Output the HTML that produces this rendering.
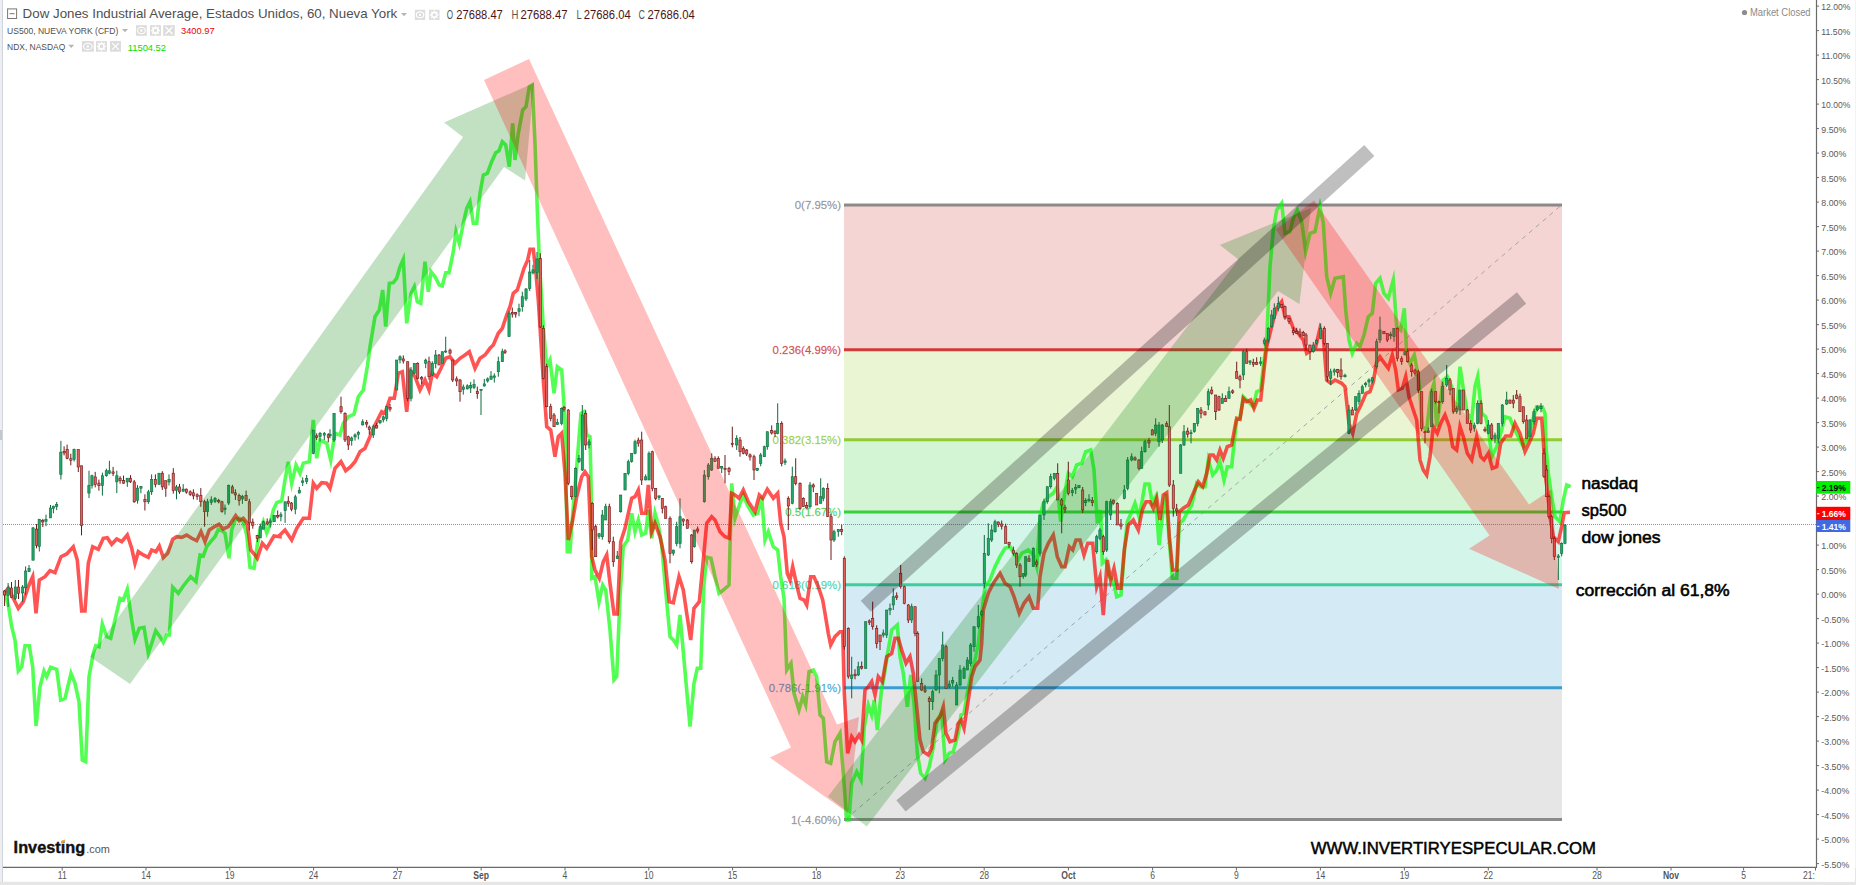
<!DOCTYPE html>
<html lang="es"><head><meta charset="utf-8"><title>Dow Jones Industrial Average - Investing.com</title>
<style>
html,body{margin:0;padding:0;background:#fff;overflow:hidden}
body{width:1856px;height:885px;font-family:"Liberation Sans",Arial,sans-serif}
svg{display:block}
text{font-family:"Liberation Sans",Arial,sans-serif}
.ax{font-size:10px;fill:#555}
.tb{font-weight:bold}
.fib{font-size:11.4px}
.note{font-size:16px;fill:#000;stroke:#000;stroke-width:.55px}
</style></head><body>
<svg width="1856" height="885" viewBox="0 0 1856 885">
<rect width="1856" height="885" fill="#fff"/>

<rect x="0" y="0" width="2" height="882" fill="#eceef2"/><rect x="2" y="0" width="1" height="882" fill="#cfd3db"/>
<rect x="0" y="430" width="2" height="10" fill="#c4c7cd"/>
<rect x="0" y="881.7" width="1856" height="3.3" fill="#e6e6e6"/>
<rect x="1855" y="0" width="1" height="885" fill="#e6e6e6"/>
<g id="fib">
<rect x="844" y="204.9" width="718" height="144.8" fill="rgba(204,40,40,0.2)"/>
<rect x="844" y="349.7" width="718" height="90.1" fill="rgba(149,204,40,0.2)"/>
<rect x="844" y="439.8" width="718" height="72.2" fill="rgba(40,204,40,0.2)"/>
<rect x="844" y="512.0" width="718" height="72.8" fill="rgba(40,204,149,0.2)"/>
<rect x="844" y="584.8" width="718" height="102.9" fill="rgba(40,149,204,0.2)"/>
<rect x="844" y="687.7" width="718" height="131.9" fill="rgba(128,128,128,0.2)"/>
<line x1="846" y1="819" x2="1561" y2="205.5" stroke="#a6a6a6" stroke-width="1" stroke-dasharray="4.5,4.5"/>
<line x1="844" y1="204.9" x2="1562" y2="204.9" stroke="#808080" stroke-width="3" stroke-opacity="0.9"/>
<line x1="844" y1="349.7" x2="1562" y2="349.7" stroke="#cc2828" stroke-width="3" stroke-opacity="0.9"/>
<line x1="844" y1="439.8" x2="1562" y2="439.8" stroke="#88c622" stroke-width="3" stroke-opacity="0.9"/>
<line x1="844" y1="512.0" x2="1562" y2="512.0" stroke="#28cc28" stroke-width="3" stroke-opacity="0.9"/>
<line x1="844" y1="584.8" x2="1562" y2="584.8" stroke="#28cc95" stroke-width="3" stroke-opacity="0.9"/>
<line x1="844" y1="687.7" x2="1562" y2="687.7" stroke="#2895cc" stroke-width="3" stroke-opacity="0.9"/>
<line x1="844" y1="819.6" x2="1562" y2="819.6" stroke="#808080" stroke-width="3" stroke-opacity="0.9"/>
<text class="fib" x="841" y="208.9" text-anchor="end" fill="#808080" fill-opacity="0.8" stroke="#808080" stroke-opacity="0.5" stroke-width="0.3">0(7.95%)</text>
<text class="fib" x="841" y="353.7" text-anchor="end" fill="#cc2828" fill-opacity="0.8" stroke="#cc2828" stroke-opacity="0.5" stroke-width="0.3">0.236(4.99%)</text>
<text class="fib" x="841" y="443.8" text-anchor="end" fill="#88c622" fill-opacity="0.8" stroke="#88c622" stroke-opacity="0.5" stroke-width="0.3">0.382(3.15%)</text>
<text class="fib" x="841" y="516.0" text-anchor="end" fill="#28cc28" fill-opacity="0.8" stroke="#28cc28" stroke-opacity="0.5" stroke-width="0.3">0.5(1.67%)</text>
<text class="fib" x="841" y="588.8" text-anchor="end" fill="#28cc95" fill-opacity="0.8" stroke="#28cc95" stroke-opacity="0.5" stroke-width="0.3">0.618(0.19%)</text>
<text class="fib" x="841" y="691.7" text-anchor="end" fill="#2895cc" fill-opacity="0.8" stroke="#2895cc" stroke-opacity="0.5" stroke-width="0.3">0.786(-1.91%)</text>
<text class="fib" x="841" y="823.6" text-anchor="end" fill="#808080" fill-opacity="0.8" stroke="#808080" stroke-opacity="0.5" stroke-width="0.3">1(-4.60%)</text>
</g>
<line x1="3" y1="524.5" x2="1816" y2="524.5" stroke="#4a6fe0" stroke-opacity="0.75" stroke-width="1" stroke-dasharray="1,1"/>
<polyline points="5.0,593.3 8.3,605.0 11.7,626.7 15.0,640.0 18.3,671.0 21.7,666.7 25.0,645.7 29.3,645.7 32.7,666.7 36.0,726.0 40.0,686.7 44.0,671.0 46.7,676.7 50.7,667.3 56.7,669.3 60.7,700.0 65.0,698.3 71.0,673.3 75.0,683.3 79.0,701.7 82.3,760.0 85.7,761.7 89.0,676.7 93.3,653.3 95.7,645.7 99.0,646.7 102.3,624.0 106.7,636.7 110.7,638.3 115.0,620.0 120.0,598.3 123.3,600.0 127.3,589.3 131.7,620.0 135.0,639.3 139.3,628.3 144.0,627.3 148.3,653.3 151.7,643.3 155.7,630.7 160.0,636.7 163.3,642.3 166.7,635.0 169.3,635.0 172.7,587.3 178.3,593.3 183.3,586.0 190.7,576.7 196.0,581.7 200.0,555.0 203.3,556.0 206.7,546.7 210.7,541.7 215.0,536.7 218.3,529.3 221.7,530.7 225.0,533.3 229.0,558.3 231.7,530.0 235.0,520.0 239.3,518.3 243.3,521.7 246.7,535.0 250.0,567.3 254.0,568.3 257.3,545.0 260.0,530.0 263.3,521.7 266.7,532.7 270.0,525.0 273.3,510.0 276.7,502.7 281.7,500.7 285.0,480.0 288.3,461.7 291.7,483.3 296.0,465.0 300.0,473.3 303.3,463.3 309.3,461.7 313.3,420.0 316.7,458.3 320.0,440.0 326.7,443.3 330.7,460.0 335.0,433.3 340.0,435.0 343.3,423.3 348.3,416.7 354.0,414.3 358.3,396.7 363.3,390.0 367.3,366.7 370.0,346.7 375.0,316.7 379.3,310.0 382.7,290.0 385.7,326.7 389.3,283.3 393.3,282.7 396.7,278.3 400.0,266.7 403.3,259.3 406.7,323.3 411.0,293.3 414.3,286.7 417.3,301.7 420.7,303.3 425.0,261.7 428.3,291.7 431.0,271.7 435.0,276.7 439.3,285.0 442.3,286.0 445.7,272.7 449.0,272.7 453.3,251.7 456.0,231.7 459.3,243.3 463.3,223.3 466.7,208.3 470.0,201.7 473.3,223.3 476.7,223.3 480.0,193.3 483.3,175.0 487.3,173.3 491.7,161.7 495.7,152.7 499.0,150.7 502.3,141.7 505.7,145.0 509.3,166.7 512.7,123.3 515.0,160.0 518.3,133.3 522.7,110.0 526.0,106.7 529.3,86.7 532.3,85.0 535.0,143.3 537.3,210.0 539.3,260.0 543.3,326.7 546.7,366.7 550.0,360.0 554.0,393.3 557.3,366.7 561.7,370.0 565.0,420.0 567.3,551.7 570.0,551.7 572.7,513.3 576.7,466.7 581.0,413.3 584.0,411.7 586.7,435.0 590.0,436.7 591.7,513.3 591.7,578.3 595.0,576.7 599.0,601.7 602.7,585.0 605.7,590.0 610.0,630.0 614.0,680.0 616.7,676.7 620.0,596.7 623.3,546.7 627.7,540.0 631.7,513.3 635.0,531.7 638.3,520.0 641.7,535.0 645.7,533.3 648.3,510.0 651.7,538.3 655.0,513.3 658.3,525.0 661.7,545.0 665.0,583.3 670.0,636.7 673.3,640.0 676.7,645.0 680.0,615.0 684.0,660.0 690.0,726.7 694.0,683.3 697.3,668.3 700.7,668.3 704.0,583.3 706.7,557.3 711.0,558.3 715.0,576.7 719.0,593.3 723.3,590.0 729.0,585.0 731.7,483.3 735.0,518.3 740.0,503.3 743.3,495.0 747.3,505.0 753.3,515.0 757.7,513.3 761.7,496.7 765.0,540.0 768.3,531.7 773.3,546.7 777.7,550.0 780.7,576.7 784.0,598.3 786.7,670.0 791.0,663.3 794.0,693.3 799.0,710.0 802.7,696.7 805.7,705.0 809.0,671.7 813.3,670.0 816.7,676.7 820.0,715.0 823.3,718.3 826.7,761.7 830.7,763.3 835.0,741.7 840.0,733.3 843.3,773.3 846.7,820.0 849.0,820.0 851.7,783.3 856.7,771.7 861.0,780.0 864.3,726.7 868.3,705.0 871.7,715.0 874.3,700.0 877.3,730.0 881.7,688.3 884.0,676.7 887.3,655.0 891.7,630.0 897.3,625.0 900.0,656.7 903.3,673.3 907.3,706.7 910.7,675.0 914.0,703.3 917.3,753.3 920.7,773.3 925.0,778.3 929.3,766.7 933.3,746.7 937.3,720.0 941.7,713.3 945.0,760.0 949.3,753.3 953.3,751.7 958.3,733.3 961.0,715.0 964.0,713.3 967.3,693.3 971.7,670.0 975.0,660.0 978.3,643.3 981.7,613.3 985.0,586.7 990.0,580.0 995.0,566.7 1000.0,556.7 1005.0,548.3 1010.0,546.7 1014.0,553.3 1018.3,560.0 1021.7,553.3 1028.3,550.0 1033.3,555.0 1036.7,566.7 1040.0,516.7 1043.3,503.3 1048.3,496.7 1053.3,493.3 1057.3,486.7 1060.7,521.7 1065.0,491.7 1068.3,473.3 1072.3,476.7 1076.7,465.0 1081.7,463.3 1085.7,451.7 1090.7,450.0 1094.0,470.0 1097.3,523.3 1100.7,510.0 1102.3,563.3 1106.0,560.0 1109.3,576.7 1113.3,580.0 1116.7,596.7 1121.0,595.0 1125.0,543.3 1127.3,521.7 1131.0,513.3 1135.0,503.3 1139.0,516.7 1142.3,500.0 1145.0,484.0 1149.0,484.0 1152.3,503.3 1155.7,496.7 1159.0,545.0 1162.3,516.7 1165.7,493.3 1169.0,536.7 1172.3,578.3 1176.7,578.3 1179.3,523.3 1183.3,520.0 1187.7,511.7 1191.7,505.0 1196.7,483.3 1200.7,486.7 1205.0,486.7 1208.3,460.0 1212.7,475.0 1216.7,470.0 1220.0,461.7 1224.0,480.0 1227.3,466.7 1231.7,466.7 1234.0,443.3 1236.7,420.0 1240.0,418.3 1243.3,396.7 1248.3,401.7 1253.3,406.7 1256.7,391.7 1260.7,390.0 1263.3,366.7 1266.7,340.0 1270.0,266.7 1273.3,230.0 1276.7,210.0 1281.7,203.3 1285.0,233.3 1290.0,231.7 1293.3,218.3 1297.3,210.0 1301.7,221.7 1305.7,251.7 1310.0,233.3 1315.0,231.7 1320.0,206.7 1323.3,223.3 1326.7,276.7 1330.7,293.3 1335.0,278.3 1343.3,276.7 1345.7,310.0 1349.0,340.0 1352.3,353.3 1356.7,343.3 1360.0,346.7 1364.0,335.0 1368.3,316.7 1372.3,313.3 1375.7,283.3 1380.0,278.3 1384.0,293.3 1388.3,298.3 1393.3,280.0 1396.7,326.7 1400.7,330.0 1404.3,308.3 1406.7,353.3 1410.0,363.3 1414.3,355.0 1418.3,376.7 1420.0,393.3 1422.3,426.7 1426.7,430.0 1430.7,393.3 1434.0,383.3 1436.7,426.7 1440.0,403.3 1443.3,380.0 1447.3,376.7 1451.7,386.7 1454.0,410.0 1457.3,406.7 1460.0,366.7 1464.0,393.3 1467.3,413.3 1471.7,420.0 1475.0,386.7 1477.7,376.7 1481.7,413.3 1485.7,416.7 1489.0,433.3 1491.7,456.7 1496.7,446.7 1500.7,433.3 1505.0,416.7 1510.0,418.3 1514.0,428.3 1518.3,436.7 1523.3,446.7 1528.3,438.3 1532.7,420.0 1536.7,406.7 1542.3,406.7 1545.0,413.3 1546.0,446.7 1548.3,473.3 1551.7,496.7 1555.0,516.7 1560.0,521.7 1563.3,500.0 1566.7,485.0 1570.7,486.7" fill="none" stroke="#00ff00" stroke-width="3.6" stroke-linejoin="miter" stroke-miterlimit="6" stroke-linecap="butt" stroke-opacity="0.67"/>
<polyline points="4.0,593.3 8.3,588.3 13.3,598.3 18.3,608.3 23.3,601.7 28.3,586.7 32.7,576.7 36.0,613.3 39.3,580.0 45.0,576.7 50.0,570.7 55.0,572.7 61.0,556.7 66.7,554.0 73.3,546.7 77.3,560.0 81.7,611.0 85.0,611.0 88.3,563.3 92.7,546.7 98.3,549.3 103.3,538.3 107.3,537.7 111.7,544.3 116.7,539.0 121.7,541.7 127.3,535.0 131.7,548.3 135.0,563.3 138.3,551.7 143.3,555.0 148.3,557.3 151.7,550.0 156.0,551.7 159.3,546.0 163.3,557.7 167.7,553.3 172.7,539.3 176.7,536.7 181.7,537.3 186.7,535.0 191.7,538.3 196.7,540.7 201.0,531.7 205.0,541.7 209.3,530.0 214.3,526.7 219.0,524.3 223.3,529.0 228.3,526.7 235.7,515.7 239.3,520.7 243.3,518.3 247.3,523.3 250.7,550.0 255.0,555.0 257.3,558.3 262.3,543.3 266.7,548.3 274.0,536.0 280.0,536.7 280.0,535.0 285.0,530.0 291.7,540.0 296.7,528.3 303.3,518.3 309.3,518.3 313.3,483.3 316.7,488.3 321.7,482.7 326.7,483.3 330.0,488.3 335.0,468.3 341.0,461.7 345.7,470.7 350.7,466.7 355.0,461.7 360.0,451.7 365.0,448.3 369.3,438.3 375.0,425.0 381.7,411.7 385.0,413.3 390.0,398.3 394.3,398.3 398.3,373.3 402.3,371.7 406.7,411.7 410.7,371.7 415.0,376.7 420.0,390.0 425.0,380.0 429.0,390.0 432.3,373.3 436.7,376.7 441.0,368.3 445.7,358.3 450.0,356.7 455.0,363.3 460.0,358.3 465.0,355.0 469.3,351.7 475.0,368.3 480.0,358.3 485.0,355.0 490.0,348.3 493.3,345.0 498.3,333.3 502.3,328.3 506.7,315.0 510.0,306.7 513.3,293.3 517.3,290.0 524.0,268.3 527.7,260.0 530.0,249.3 533.3,249.3 536.0,273.3 538.3,300.0 540.0,326.7 540.0,326.7 543.3,380.0 546.7,426.7 550.7,430.0 555.0,456.7 558.3,436.7 561.7,433.3 565.0,473.3 568.3,540.0 572.7,520.0 576.7,496.7 581.7,476.7 585.0,471.7 588.3,476.7 591.7,556.7 595.0,570.0 599.3,578.3 603.3,561.7 606.7,555.0 610.0,583.3 614.0,614.0 617.3,614.0 620.7,541.7 625.0,528.3 628.3,513.3 631.7,498.3 635.0,496.7 638.3,490.0 641.7,513.3 645.7,513.3 648.3,485.0 651.7,531.7 655.0,523.3 660.0,536.7 665.0,560.0 669.3,601.7 673.3,602.7 679.0,576.7 683.3,590.0 686.7,613.3 690.7,640.0 694.0,608.3 699.3,601.7 703.3,560.0 706.7,523.3 711.7,516.7 715.0,520.0 720.0,531.7 725.0,536.7 729.3,538.3 731.7,493.3 735.0,495.0 739.0,498.3 743.3,490.0 748.3,501.7 755.0,511.7 759.3,495.0 762.7,498.3 767.3,489.3 773.3,498.3 777.7,493.3 780.7,523.3 784.0,536.7 787.3,573.3 790.0,580.0 792.7,566.7 796.7,585.0 800.0,598.3 804.0,600.0 806.7,605.0 810.7,576.7 814.0,576.7 818.3,586.7 822.7,600.0 825.0,613.3 828.3,633.3 830.7,645.0 835.0,636.7 840.0,631.7 842.7,631.7 844.3,693.3 847.7,753.3 851.7,736.7 855.0,741.7 859.0,735.0 861.7,740.0 865.0,690.0 868.3,686.7 871.7,681.7 875.0,695.0 878.3,676.7 882.3,681.7 886.7,656.7 891.7,653.3 895.0,638.3 898.3,638.3 901.7,650.0 906.0,663.3 910.0,656.7 913.3,673.3 916.7,706.7 920.0,740.0 923.3,751.7 928.3,755.0 931.7,748.3 935.0,723.3 940.0,716.7 943.3,706.7 946.0,733.3 950.0,741.7 955.0,740.0 958.3,723.3 961.0,720.0 964.0,728.3 968.3,700.0 971.7,676.7 975.0,666.7 980.0,660.0 981.7,643.3 983.3,610.0 988.3,593.3 993.3,583.3 1000.0,573.3 1005.0,583.3 1010.0,586.7 1014.0,596.7 1019.3,613.3 1024.0,603.3 1029.0,596.7 1033.3,608.3 1037.7,608.3 1040.0,576.7 1044.0,553.3 1048.3,543.3 1053.3,535.0 1057.3,556.7 1061.7,566.7 1065.0,566.7 1069.3,546.7 1072.7,550.0 1076.0,540.0 1080.0,540.0 1084.0,555.0 1087.7,543.3 1092.7,543.3 1096.7,586.7 1100.0,576.7 1103.3,615.0 1107.3,560.0 1110.7,580.0 1114.0,568.3 1117.7,588.3 1121.0,588.3 1124.3,550.0 1128.3,525.0 1133.3,520.0 1138.3,530.0 1142.3,510.0 1146.0,501.7 1150.0,501.7 1153.3,508.3 1156.7,498.3 1160.0,520.0 1163.3,495.0 1166.7,492.7 1169.3,536.7 1172.7,570.0 1176.7,570.0 1179.3,511.7 1183.3,508.3 1188.3,505.0 1193.3,493.3 1198.3,481.7 1202.7,486.7 1206.7,473.3 1210.0,455.0 1213.3,455.0 1216.7,460.0 1220.0,450.0 1223.3,458.3 1227.3,446.7 1231.7,445.0 1235.0,426.7 1236.7,418.3 1240.0,419.3 1243.3,398.3 1246.7,401.7 1250.7,400.0 1254.0,408.3 1257.3,400.0 1260.7,400.0 1264.0,370.0 1267.3,340.0 1266.7,346.7 1270.0,333.3 1273.3,320.0 1276.7,308.3 1281.7,301.7 1285.0,316.7 1289.0,316.7 1293.3,328.3 1298.3,333.3 1303.3,340.0 1306.7,353.3 1311.7,350.0 1315.7,346.7 1320.0,328.3 1323.3,336.7 1326.7,380.0 1330.7,383.3 1335.0,380.0 1341.7,383.3 1345.0,386.7 1349.0,423.3 1352.7,433.3 1356.7,413.3 1361.0,405.0 1366.0,393.3 1370.0,391.7 1373.3,381.7 1376.7,361.7 1380.0,356.7 1383.3,361.7 1388.3,368.3 1392.3,355.0 1395.7,370.0 1398.3,390.0 1402.3,388.3 1405.7,376.7 1409.0,396.7 1413.3,410.0 1416.7,420.0 1420.0,460.0 1423.3,470.0 1426.7,475.0 1430.0,456.7 1433.3,426.7 1437.3,433.3 1440.7,423.3 1445.0,415.0 1449.3,426.7 1452.7,446.7 1456.7,450.0 1460.0,426.7 1463.3,436.7 1467.3,453.3 1471.7,460.0 1476.7,436.7 1480.7,456.7 1484.0,460.0 1488.3,453.3 1492.3,468.3 1496.7,466.7 1500.7,443.3 1505.7,436.0 1510.7,436.0 1515.0,423.3 1520.0,433.3 1525.0,451.7 1529.0,443.3 1533.3,433.3 1536.7,418.3 1541.7,418.3 1541.7,418.3 1543.3,440.0 1545.0,473.3 1547.7,493.3 1550.0,516.7 1553.3,536.7 1558.3,541.7 1561.7,526.7 1564.3,512.7 1570.0,512.3" fill="none" stroke="#ff0000" stroke-width="3.6" stroke-linejoin="miter" stroke-miterlimit="6" stroke-linecap="butt" stroke-opacity="0.67"/>
<g id="dow" shape-rendering="auto">
<path d="M4.6 590.0V606.0" stroke="#701818" stroke-width="1"/>
<rect x="3.4" y="591.0" width="2.3" height="4.0" fill="#e2605a" stroke="#701818" stroke-width="0.6"/>
<path d="M8.1 583.0V607.0" stroke="#0f6b3e" stroke-width="1"/>
<rect x="6.9" y="587.8" width="2.3" height="7.6" fill="#1fa866" stroke="#0f6b3e" stroke-width="0.6"/>
<path d="M11.5 582.0V598.0" stroke="#701818" stroke-width="1"/>
<rect x="10.3" y="588.0" width="2.3" height="9.5" fill="#e2605a" stroke="#701818" stroke-width="0.6"/>
<path d="M15.3 580.0V600.0" stroke="#0f6b3e" stroke-width="1"/>
<rect x="14.2" y="587.0" width="2.3" height="11.5" fill="#1fa866" stroke="#0f6b3e" stroke-width="0.6"/>
<path d="M18.5 580.0V599.0" stroke="#701818" stroke-width="1"/>
<rect x="17.4" y="587.0" width="2.3" height="6.4" fill="#e2605a" stroke="#701818" stroke-width="0.6"/>
<path d="M22.6 585.0V602.0" stroke="#0f6b3e" stroke-width="1"/>
<rect x="21.5" y="587.0" width="2.3" height="6.0" fill="#1fa866" stroke="#0f6b3e" stroke-width="0.6"/>
<path d="M25.6 566.4V595.0" stroke="#0f6b3e" stroke-width="1"/>
<rect x="24.5" y="571.0" width="2.3" height="16.8" fill="#1fa866" stroke="#0f6b3e" stroke-width="0.6"/>
<path d="M29.0 565.0V572.0" stroke="#0f6b3e" stroke-width="1"/>
<rect x="27.9" y="568.5" width="2.3" height="3.1" fill="#1fa866" stroke="#0f6b3e" stroke-width="0.6"/>
<path d="M33.1 526.9V560.2" stroke="#0f6b3e" stroke-width="1"/>
<rect x="31.9" y="527.9" width="2.3" height="32.3" fill="#1fa866" stroke="#0f6b3e" stroke-width="0.6"/>
<path d="M36.5 524.1V548.3" stroke="#701818" stroke-width="1"/>
<rect x="35.4" y="529.1" width="2.3" height="16.2" fill="#e2605a" stroke="#701818" stroke-width="0.6"/>
<path d="M39.3 519.2V551.5" stroke="#0f6b3e" stroke-width="1"/>
<rect x="38.1" y="519.2" width="2.3" height="27.3" fill="#1fa866" stroke="#0f6b3e" stroke-width="0.6"/>
<path d="M42.8 518.9V527.0" stroke="#701818" stroke-width="1"/>
<rect x="41.6" y="520.4" width="2.3" height="1.6" fill="#e2605a" stroke="#701818" stroke-width="0.6"/>
<path d="M46.0 514.6V526.2" stroke="#0f6b3e" stroke-width="1"/>
<rect x="44.8" y="519.6" width="2.3" height="1.6" fill="#1fa866" stroke="#0f6b3e" stroke-width="0.6"/>
<path d="M50.5 505.0V518.0" stroke="#0f6b3e" stroke-width="1"/>
<rect x="49.3" y="508.0" width="2.3" height="9.9" fill="#1fa866" stroke="#0f6b3e" stroke-width="0.6"/>
<path d="M53.4 505.7V513.3" stroke="#0f6b3e" stroke-width="1"/>
<rect x="52.3" y="506.2" width="2.3" height="2.1" fill="#1fa866" stroke="#0f6b3e" stroke-width="0.6"/>
<path d="M56.7 502.0V510.1" stroke="#0f6b3e" stroke-width="1"/>
<rect x="55.5" y="504.5" width="2.3" height="2.1" fill="#1fa866" stroke="#0f6b3e" stroke-width="0.6"/>
<path d="M60.9 440.9V479.5" stroke="#0f6b3e" stroke-width="1"/>
<rect x="59.7" y="452.1" width="2.3" height="22.4" fill="#1fa866" stroke="#0f6b3e" stroke-width="0.6"/>
<path d="M64.1 446.3V455.4" stroke="#701818" stroke-width="1"/>
<rect x="63.0" y="451.3" width="2.3" height="1.6" fill="#e2605a" stroke="#701818" stroke-width="0.6"/>
<path d="M67.1 444.6V459.3" stroke="#701818" stroke-width="1"/>
<rect x="66.0" y="449.6" width="2.3" height="8.7" fill="#e2605a" stroke="#701818" stroke-width="0.6"/>
<path d="M70.8 453.7V465.3" stroke="#701818" stroke-width="1"/>
<rect x="69.7" y="458.7" width="2.3" height="1.6" fill="#e2605a" stroke="#701818" stroke-width="0.6"/>
<path d="M74.1 448.6V461.5" stroke="#0f6b3e" stroke-width="1"/>
<rect x="72.9" y="449.6" width="2.3" height="9.9" fill="#1fa866" stroke="#0f6b3e" stroke-width="0.6"/>
<path d="M78.3 449.6V472.0" stroke="#701818" stroke-width="1"/>
<rect x="77.1" y="449.6" width="2.3" height="17.4" fill="#e2605a" stroke="#701818" stroke-width="0.6"/>
<path d="M81.5 465.8V535.4" stroke="#701818" stroke-width="1"/>
<rect x="80.4" y="465.8" width="2.3" height="59.7" fill="#e2605a" stroke="#701818" stroke-width="0.6"/>
<path d="M89.0 470.7V498.1" stroke="#0f6b3e" stroke-width="1"/>
<rect x="87.8" y="485.6" width="2.3" height="7.5" fill="#1fa866" stroke="#0f6b3e" stroke-width="0.6"/>
<path d="M92.0 474.7V488.6" stroke="#0f6b3e" stroke-width="1"/>
<rect x="90.8" y="475.7" width="2.3" height="9.9" fill="#1fa866" stroke="#0f6b3e" stroke-width="0.6"/>
<path d="M95.2 471.9V487.4" stroke="#701818" stroke-width="1"/>
<rect x="94.1" y="476.9" width="2.3" height="7.5" fill="#e2605a" stroke="#701818" stroke-width="0.6"/>
<path d="M98.9 479.6V490.7" stroke="#701818" stroke-width="1"/>
<rect x="97.8" y="483.1" width="2.3" height="2.6" fill="#e2605a" stroke="#701818" stroke-width="0.6"/>
<path d="M102.4 472.7V495.6" stroke="#0f6b3e" stroke-width="1"/>
<rect x="101.3" y="475.7" width="2.3" height="9.9" fill="#1fa866" stroke="#0f6b3e" stroke-width="0.6"/>
<path d="M106.4 468.7V476.7" stroke="#0f6b3e" stroke-width="1"/>
<rect x="105.2" y="470.7" width="2.3" height="5.0" fill="#1fa866" stroke="#0f6b3e" stroke-width="0.6"/>
<path d="M109.4 460.8V474.2" stroke="#0f6b3e" stroke-width="1"/>
<rect x="108.2" y="470.7" width="2.3" height="2.5" fill="#1fa866" stroke="#0f6b3e" stroke-width="0.6"/>
<path d="M113.1 466.9V476.0" stroke="#701818" stroke-width="1"/>
<rect x="111.9" y="471.9" width="2.3" height="1.6" fill="#e2605a" stroke="#701818" stroke-width="0.6"/>
<path d="M116.8 470.7V493.1" stroke="#0f6b3e" stroke-width="1"/>
<rect x="115.7" y="475.7" width="2.3" height="6.2" fill="#1fa866" stroke="#0f6b3e" stroke-width="0.6"/>
<path d="M120.1 476.2V483.7" stroke="#701818" stroke-width="1"/>
<rect x="118.9" y="478.2" width="2.3" height="2.5" fill="#e2605a" stroke="#701818" stroke-width="0.6"/>
<path d="M123.5 475.6V483.7" stroke="#701818" stroke-width="1"/>
<rect x="122.4" y="480.6" width="2.3" height="2.6" fill="#e2605a" stroke="#701818" stroke-width="0.6"/>
<path d="M127.3 478.2V486.9" stroke="#0f6b3e" stroke-width="1"/>
<rect x="126.1" y="478.2" width="2.3" height="3.7" fill="#1fa866" stroke="#0f6b3e" stroke-width="0.6"/>
<path d="M130.5 475.2V482.9" stroke="#701818" stroke-width="1"/>
<rect x="129.3" y="478.2" width="2.3" height="3.7" fill="#e2605a" stroke="#701818" stroke-width="0.6"/>
<path d="M134.2 479.9V502.8" stroke="#701818" stroke-width="1"/>
<rect x="133.1" y="481.9" width="2.3" height="19.9" fill="#e2605a" stroke="#701818" stroke-width="0.6"/>
<path d="M137.5 485.1V503.6" stroke="#0f6b3e" stroke-width="1"/>
<rect x="136.3" y="488.1" width="2.3" height="12.4" fill="#1fa866" stroke="#0f6b3e" stroke-width="0.6"/>
<path d="M140.9 486.1V493.2" stroke="#0f6b3e" stroke-width="1"/>
<rect x="139.8" y="486.6" width="2.3" height="1.6" fill="#1fa866" stroke="#0f6b3e" stroke-width="0.6"/>
<path d="M144.9 494.3V510.5" stroke="#701818" stroke-width="1"/>
<rect x="143.8" y="499.3" width="2.3" height="2.5" fill="#e2605a" stroke="#701818" stroke-width="0.6"/>
<path d="M148.4 489.9V503.8" stroke="#0f6b3e" stroke-width="1"/>
<rect x="147.2" y="491.9" width="2.3" height="9.9" fill="#1fa866" stroke="#0f6b3e" stroke-width="0.6"/>
<path d="M151.6 474.4V494.9" stroke="#0f6b3e" stroke-width="1"/>
<rect x="150.5" y="479.4" width="2.3" height="12.4" fill="#1fa866" stroke="#0f6b3e" stroke-width="0.6"/>
<path d="M155.4 474.4V487.4" stroke="#701818" stroke-width="1"/>
<rect x="154.2" y="479.4" width="2.3" height="5.0" fill="#e2605a" stroke="#701818" stroke-width="0.6"/>
<path d="M159.1 473.2V484.4" stroke="#0f6b3e" stroke-width="1"/>
<rect x="157.9" y="473.2" width="2.3" height="11.2" fill="#1fa866" stroke="#0f6b3e" stroke-width="0.6"/>
<path d="M162.3 471.2V489.9" stroke="#701818" stroke-width="1"/>
<rect x="161.2" y="473.2" width="2.3" height="13.7" fill="#e2605a" stroke="#701818" stroke-width="0.6"/>
<path d="M165.8 480.7V496.8" stroke="#701818" stroke-width="1"/>
<rect x="164.6" y="480.7" width="2.3" height="7.5" fill="#e2605a" stroke="#701818" stroke-width="0.6"/>
<path d="M169.0 474.4V485.5" stroke="#0f6b3e" stroke-width="1"/>
<rect x="167.9" y="479.4" width="2.3" height="2.6" fill="#1fa866" stroke="#0f6b3e" stroke-width="0.6"/>
<path d="M173.3 468.2V493.6" stroke="#701818" stroke-width="1"/>
<rect x="172.1" y="473.2" width="2.3" height="17.4" fill="#e2605a" stroke="#701818" stroke-width="0.6"/>
<path d="M176.5 484.9V499.3" stroke="#0f6b3e" stroke-width="1"/>
<rect x="175.3" y="486.9" width="2.3" height="3.7" fill="#1fa866" stroke="#0f6b3e" stroke-width="0.6"/>
<path d="M179.5 483.9V493.9" stroke="#701818" stroke-width="1"/>
<rect x="178.3" y="486.9" width="2.3" height="5.0" fill="#e2605a" stroke="#701818" stroke-width="0.6"/>
<path d="M183.2 484.1V491.7" stroke="#0f6b3e" stroke-width="1"/>
<rect x="182.0" y="489.1" width="2.3" height="2.1" fill="#1fa866" stroke="#0f6b3e" stroke-width="0.6"/>
<path d="M186.4 488.6V493.7" stroke="#701818" stroke-width="1"/>
<rect x="185.3" y="489.1" width="2.3" height="3.1" fill="#e2605a" stroke="#701818" stroke-width="0.6"/>
<path d="M190.2 490.3V495.9" stroke="#701818" stroke-width="1"/>
<rect x="189.0" y="491.8" width="2.3" height="2.6" fill="#e2605a" stroke="#701818" stroke-width="0.6"/>
<path d="M193.4 489.3V499.4" stroke="#701818" stroke-width="1"/>
<rect x="192.2" y="492.8" width="2.3" height="3.1" fill="#e2605a" stroke="#701818" stroke-width="0.6"/>
<path d="M197.1 493.3V499.9" stroke="#701818" stroke-width="1"/>
<rect x="196.0" y="494.8" width="2.3" height="1.6" fill="#e2605a" stroke="#701818" stroke-width="0.6"/>
<path d="M200.8 488.1V506.8" stroke="#701818" stroke-width="1"/>
<rect x="199.7" y="495.6" width="2.3" height="6.2" fill="#e2605a" stroke="#701818" stroke-width="0.6"/>
<path d="M204.6 499.8V526.7" stroke="#701818" stroke-width="1"/>
<rect x="203.4" y="501.8" width="2.3" height="9.9" fill="#e2605a" stroke="#701818" stroke-width="0.6"/>
<path d="M207.6 498.8V516.7" stroke="#0f6b3e" stroke-width="1"/>
<rect x="206.4" y="501.8" width="2.3" height="9.9" fill="#1fa866" stroke="#0f6b3e" stroke-width="0.6"/>
<path d="M211.3 496.3V504.9" stroke="#0f6b3e" stroke-width="1"/>
<rect x="210.1" y="499.8" width="2.3" height="2.6" fill="#1fa866" stroke="#0f6b3e" stroke-width="0.6"/>
<path d="M215.0 497.0V503.1" stroke="#0f6b3e" stroke-width="1"/>
<rect x="213.9" y="498.5" width="2.3" height="3.1" fill="#1fa866" stroke="#0f6b3e" stroke-width="0.6"/>
<path d="M218.7 498.8V503.4" stroke="#701818" stroke-width="1"/>
<rect x="217.6" y="500.3" width="2.3" height="1.6" fill="#e2605a" stroke="#701818" stroke-width="0.6"/>
<path d="M222.0 500.8V512.7" stroke="#701818" stroke-width="1"/>
<rect x="220.8" y="501.8" width="2.3" height="9.9" fill="#e2605a" stroke="#701818" stroke-width="0.6"/>
<path d="M225.0 504.5V514.6" stroke="#0f6b3e" stroke-width="1"/>
<rect x="223.8" y="508.0" width="2.3" height="1.6" fill="#1fa866" stroke="#0f6b3e" stroke-width="0.6"/>
<path d="M228.7 484.6V505.0" stroke="#0f6b3e" stroke-width="1"/>
<rect x="227.5" y="485.6" width="2.3" height="17.4" fill="#1fa866" stroke="#0f6b3e" stroke-width="0.6"/>
<path d="M232.4 484.9V493.1" stroke="#701818" stroke-width="1"/>
<rect x="231.3" y="486.9" width="2.3" height="6.2" fill="#e2605a" stroke="#701818" stroke-width="0.6"/>
<path d="M235.4 489.3V499.9" stroke="#701818" stroke-width="1"/>
<rect x="234.2" y="492.8" width="2.3" height="2.1" fill="#e2605a" stroke="#701818" stroke-width="0.6"/>
<path d="M239.1 493.6V505.6" stroke="#701818" stroke-width="1"/>
<rect x="238.0" y="495.6" width="2.3" height="5.0" fill="#e2605a" stroke="#701818" stroke-width="0.6"/>
<path d="M242.4 494.8V503.9" stroke="#0f6b3e" stroke-width="1"/>
<rect x="241.2" y="496.3" width="2.3" height="2.6" fill="#1fa866" stroke="#0f6b3e" stroke-width="0.6"/>
<path d="M246.1 490.6V500.6" stroke="#701818" stroke-width="1"/>
<rect x="244.9" y="495.6" width="2.3" height="5.0" fill="#e2605a" stroke="#701818" stroke-width="0.6"/>
<path d="M249.3 498.8V530.4" stroke="#701818" stroke-width="1"/>
<rect x="248.2" y="501.8" width="2.3" height="21.1" fill="#e2605a" stroke="#701818" stroke-width="0.6"/>
<path d="M252.8 518.6V528.7" stroke="#701818" stroke-width="1"/>
<rect x="251.6" y="522.1" width="2.3" height="3.1" fill="#e2605a" stroke="#701818" stroke-width="0.6"/>
<path d="M257.3 535.0V542.1" stroke="#701818" stroke-width="1"/>
<rect x="256.1" y="535.5" width="2.3" height="3.1" fill="#e2605a" stroke="#701818" stroke-width="0.6"/>
<path d="M260.3 523.7V537.8" stroke="#0f6b3e" stroke-width="1"/>
<rect x="259.1" y="526.7" width="2.3" height="11.2" fill="#1fa866" stroke="#0f6b3e" stroke-width="0.6"/>
<path d="M263.5 520.7V529.1" stroke="#0f6b3e" stroke-width="1"/>
<rect x="262.3" y="521.7" width="2.3" height="7.5" fill="#1fa866" stroke="#0f6b3e" stroke-width="0.6"/>
<path d="M267.2 518.4V525.5" stroke="#701818" stroke-width="1"/>
<rect x="266.1" y="521.9" width="2.3" height="2.1" fill="#e2605a" stroke="#701818" stroke-width="0.6"/>
<path d="M270.2 518.4V527.5" stroke="#0f6b3e" stroke-width="1"/>
<rect x="269.0" y="520.9" width="2.3" height="1.6" fill="#1fa866" stroke="#0f6b3e" stroke-width="0.6"/>
<path d="M274.2 515.5V521.7" stroke="#0f6b3e" stroke-width="1"/>
<rect x="273.0" y="515.5" width="2.3" height="6.2" fill="#1fa866" stroke="#0f6b3e" stroke-width="0.6"/>
<path d="M277.7 510.4V518.5" stroke="#701818" stroke-width="1"/>
<rect x="276.5" y="515.4" width="2.3" height="1.6" fill="#e2605a" stroke="#701818" stroke-width="0.6"/>
<path d="M280.9 512.2V521.3" stroke="#0f6b3e" stroke-width="1"/>
<rect x="279.7" y="514.7" width="2.3" height="1.6" fill="#1fa866" stroke="#0f6b3e" stroke-width="0.6"/>
<path d="M285.1 501.8V522.9" stroke="#0f6b3e" stroke-width="1"/>
<rect x="284.0" y="501.8" width="2.3" height="8.7" fill="#1fa866" stroke="#0f6b3e" stroke-width="0.6"/>
<path d="M288.3 496.2V506.8" stroke="#701818" stroke-width="1"/>
<rect x="287.2" y="501.2" width="2.3" height="2.1" fill="#e2605a" stroke="#701818" stroke-width="0.6"/>
<path d="M291.6 502.0V511.3" stroke="#701818" stroke-width="1"/>
<rect x="290.4" y="503.0" width="2.3" height="6.2" fill="#e2605a" stroke="#701818" stroke-width="0.6"/>
<path d="M295.3 494.8V514.3" stroke="#0f6b3e" stroke-width="1"/>
<rect x="294.2" y="496.8" width="2.3" height="12.4" fill="#1fa866" stroke="#0f6b3e" stroke-width="0.6"/>
<path d="M299.3 486.9V493.5" stroke="#0f6b3e" stroke-width="1"/>
<rect x="298.2" y="490.4" width="2.3" height="2.6" fill="#1fa866" stroke="#0f6b3e" stroke-width="0.6"/>
<path d="M302.7 477.4V486.0" stroke="#0f6b3e" stroke-width="1"/>
<rect x="301.5" y="480.9" width="2.3" height="1.6" fill="#1fa866" stroke="#0f6b3e" stroke-width="0.6"/>
<path d="M306.7 474.9V484.1" stroke="#0f6b3e" stroke-width="1"/>
<rect x="305.5" y="478.4" width="2.3" height="3.1" fill="#1fa866" stroke="#0f6b3e" stroke-width="0.6"/>
<path d="M313.3 430.0V454.3" stroke="#0f6b3e" stroke-width="1"/>
<rect x="312.2" y="430.0" width="2.3" height="23.3" fill="#1fa866" stroke="#0f6b3e" stroke-width="0.6"/>
<path d="M316.7 433.4V440.0" stroke="#701818" stroke-width="1"/>
<rect x="315.5" y="435.9" width="2.3" height="1.6" fill="#e2605a" stroke="#701818" stroke-width="0.6"/>
<path d="M320.0 431.9V441.6" stroke="#0f6b3e" stroke-width="1"/>
<rect x="318.9" y="433.4" width="2.3" height="3.1" fill="#1fa866" stroke="#0f6b3e" stroke-width="0.6"/>
<path d="M324.3 432.0V440.1" stroke="#0f6b3e" stroke-width="1"/>
<rect x="323.2" y="433.5" width="2.3" height="1.6" fill="#1fa866" stroke="#0f6b3e" stroke-width="0.6"/>
<path d="M328.3 433.2V442.3" stroke="#701818" stroke-width="1"/>
<rect x="327.2" y="434.7" width="2.3" height="2.6" fill="#e2605a" stroke="#701818" stroke-width="0.6"/>
<path d="M330.0 429.2V438.3" stroke="#0f6b3e" stroke-width="1"/>
<rect x="328.9" y="434.2" width="2.3" height="1.6" fill="#1fa866" stroke="#0f6b3e" stroke-width="0.6"/>
<path d="M334.0 413.3V442.0" stroke="#0f6b3e" stroke-width="1"/>
<rect x="332.9" y="413.3" width="2.3" height="26.7" fill="#1fa866" stroke="#0f6b3e" stroke-width="0.6"/>
<path d="M341.0 396.7V413.7" stroke="#701818" stroke-width="1"/>
<rect x="339.9" y="406.7" width="2.3" height="5.0" fill="#e2605a" stroke="#701818" stroke-width="0.6"/>
<path d="M345.0 412.3V442.0" stroke="#701818" stroke-width="1"/>
<rect x="343.9" y="413.3" width="2.3" height="26.7" fill="#e2605a" stroke="#701818" stroke-width="0.6"/>
<path d="M348.3 435.7V450.0" stroke="#701818" stroke-width="1"/>
<rect x="347.2" y="436.7" width="2.3" height="8.3" fill="#e2605a" stroke="#701818" stroke-width="0.6"/>
<path d="M351.7 436.5V445.6" stroke="#0f6b3e" stroke-width="1"/>
<rect x="350.5" y="438.0" width="2.3" height="2.6" fill="#1fa866" stroke="#0f6b3e" stroke-width="0.6"/>
<path d="M355.0 433.4V440.6" stroke="#0f6b3e" stroke-width="1"/>
<rect x="353.9" y="434.9" width="2.3" height="2.1" fill="#1fa866" stroke="#0f6b3e" stroke-width="0.6"/>
<path d="M358.3 430.8V439.4" stroke="#0f6b3e" stroke-width="1"/>
<rect x="357.2" y="432.3" width="2.3" height="2.1" fill="#1fa866" stroke="#0f6b3e" stroke-width="0.6"/>
<path d="M362.7 419.3V425.4" stroke="#0f6b3e" stroke-width="1"/>
<rect x="361.5" y="421.8" width="2.3" height="3.1" fill="#1fa866" stroke="#0f6b3e" stroke-width="0.6"/>
<path d="M366.7 420.0V427.6" stroke="#701818" stroke-width="1"/>
<rect x="365.5" y="422.5" width="2.3" height="1.6" fill="#e2605a" stroke="#701818" stroke-width="0.6"/>
<path d="M369.3 425.5V434.6" stroke="#701818" stroke-width="1"/>
<rect x="368.2" y="427.0" width="2.3" height="2.6" fill="#e2605a" stroke="#701818" stroke-width="0.6"/>
<path d="M373.3 424.7V438.0" stroke="#0f6b3e" stroke-width="1"/>
<rect x="372.2" y="426.7" width="2.3" height="8.3" fill="#1fa866" stroke="#0f6b3e" stroke-width="0.6"/>
<path d="M376.7 422.9V428.5" stroke="#701818" stroke-width="1"/>
<rect x="375.5" y="425.4" width="2.3" height="2.6" fill="#e2605a" stroke="#701818" stroke-width="0.6"/>
<path d="M380.0 420.1V424.2" stroke="#0f6b3e" stroke-width="1"/>
<rect x="378.9" y="420.6" width="2.3" height="2.1" fill="#1fa866" stroke="#0f6b3e" stroke-width="0.6"/>
<path d="M383.3 415.3V422.4" stroke="#0f6b3e" stroke-width="1"/>
<rect x="382.2" y="416.8" width="2.3" height="3.1" fill="#1fa866" stroke="#0f6b3e" stroke-width="0.6"/>
<path d="M386.7 405.7V421.3" stroke="#0f6b3e" stroke-width="1"/>
<rect x="385.5" y="406.7" width="2.3" height="11.7" fill="#1fa866" stroke="#0f6b3e" stroke-width="0.6"/>
<path d="M390.0 404.0V411.6" stroke="#701818" stroke-width="1"/>
<rect x="388.9" y="407.5" width="2.3" height="1.6" fill="#e2605a" stroke="#701818" stroke-width="0.6"/>
<path d="M396.7 360.0V390.0" stroke="#0f6b3e" stroke-width="1"/>
<rect x="395.5" y="360.0" width="2.3" height="30.0" fill="#1fa866" stroke="#0f6b3e" stroke-width="0.6"/>
<path d="M400.0 355.3V363.4" stroke="#0f6b3e" stroke-width="1"/>
<rect x="398.9" y="356.8" width="2.3" height="3.1" fill="#1fa866" stroke="#0f6b3e" stroke-width="0.6"/>
<path d="M403.3 355.4V363.6" stroke="#701818" stroke-width="1"/>
<rect x="402.2" y="358.9" width="2.3" height="2.1" fill="#e2605a" stroke="#701818" stroke-width="0.6"/>
<path d="M407.7 361.7V401.3" stroke="#701818" stroke-width="1"/>
<rect x="406.5" y="361.7" width="2.3" height="36.7" fill="#e2605a" stroke="#701818" stroke-width="0.6"/>
<path d="M411.0 367.0V401.3" stroke="#0f6b3e" stroke-width="1"/>
<rect x="409.9" y="370.0" width="2.3" height="28.3" fill="#1fa866" stroke="#0f6b3e" stroke-width="0.6"/>
<path d="M414.3 363.3V374.3" stroke="#0f6b3e" stroke-width="1"/>
<rect x="413.2" y="363.3" width="2.3" height="10.0" fill="#1fa866" stroke="#0f6b3e" stroke-width="0.6"/>
<path d="M417.7 362.3V379.3" stroke="#701818" stroke-width="1"/>
<rect x="416.5" y="363.3" width="2.3" height="15.0" fill="#e2605a" stroke="#701818" stroke-width="0.6"/>
<path d="M421.7 376.0V384.1" stroke="#701818" stroke-width="1"/>
<rect x="420.5" y="377.5" width="2.3" height="1.6" fill="#e2605a" stroke="#701818" stroke-width="0.6"/>
<path d="M425.7 358.6V368.2" stroke="#0f6b3e" stroke-width="1"/>
<rect x="424.5" y="360.1" width="2.3" height="3.1" fill="#1fa866" stroke="#0f6b3e" stroke-width="0.6"/>
<path d="M429.0 356.7V379.7" stroke="#701818" stroke-width="1"/>
<rect x="427.9" y="361.7" width="2.3" height="15.0" fill="#e2605a" stroke="#701818" stroke-width="0.6"/>
<path d="M432.3 361.3V376.0" stroke="#0f6b3e" stroke-width="1"/>
<rect x="431.2" y="363.3" width="2.3" height="11.7" fill="#1fa866" stroke="#0f6b3e" stroke-width="0.6"/>
<path d="M435.7 350.0V368.3" stroke="#0f6b3e" stroke-width="1"/>
<rect x="434.5" y="355.0" width="2.3" height="8.3" fill="#1fa866" stroke="#0f6b3e" stroke-width="0.6"/>
<path d="M439.0 354.0V365.0" stroke="#701818" stroke-width="1"/>
<rect x="437.9" y="355.0" width="2.3" height="10.0" fill="#e2605a" stroke="#701818" stroke-width="0.6"/>
<path d="M442.3 351.7V363.3" stroke="#0f6b3e" stroke-width="1"/>
<rect x="441.2" y="351.7" width="2.3" height="11.7" fill="#1fa866" stroke="#0f6b3e" stroke-width="0.6"/>
<path d="M445.7 336.7V353.0" stroke="#0f6b3e" stroke-width="1"/>
<rect x="444.5" y="351.0" width="2.3" height="1.0" fill="#1fa866" stroke="#0f6b3e" stroke-width="0.6"/>
<path d="M450.0 348.6V354.7" stroke="#701818" stroke-width="1"/>
<rect x="448.9" y="350.1" width="2.3" height="3.1" fill="#e2605a" stroke="#701818" stroke-width="0.6"/>
<path d="M452.7 360.0V382.0" stroke="#701818" stroke-width="1"/>
<rect x="451.5" y="360.0" width="2.3" height="20.0" fill="#e2605a" stroke="#701818" stroke-width="0.6"/>
<path d="M456.7 376.4V386.1" stroke="#701818" stroke-width="1"/>
<rect x="455.5" y="378.9" width="2.3" height="2.1" fill="#e2605a" stroke="#701818" stroke-width="0.6"/>
<path d="M460.0 379.0V401.7" stroke="#701818" stroke-width="1"/>
<rect x="458.9" y="380.0" width="2.3" height="11.7" fill="#e2605a" stroke="#701818" stroke-width="0.6"/>
<path d="M463.3 384.5V394.6" stroke="#0f6b3e" stroke-width="1"/>
<rect x="462.2" y="387.0" width="2.3" height="2.6" fill="#1fa866" stroke="#0f6b3e" stroke-width="0.6"/>
<path d="M467.3 384.3V389.4" stroke="#0f6b3e" stroke-width="1"/>
<rect x="466.2" y="385.8" width="2.3" height="3.1" fill="#1fa866" stroke="#0f6b3e" stroke-width="0.6"/>
<path d="M470.7 381.9V393.0" stroke="#0f6b3e" stroke-width="1"/>
<rect x="469.5" y="385.4" width="2.3" height="2.6" fill="#1fa866" stroke="#0f6b3e" stroke-width="0.6"/>
<path d="M474.0 379.4V389.1" stroke="#0f6b3e" stroke-width="1"/>
<rect x="472.9" y="384.4" width="2.3" height="3.1" fill="#1fa866" stroke="#0f6b3e" stroke-width="0.6"/>
<path d="M477.3 386.6V398.7" stroke="#701818" stroke-width="1"/>
<rect x="476.2" y="391.6" width="2.3" height="2.1" fill="#e2605a" stroke="#701818" stroke-width="0.6"/>
<path d="M481.0 389.3V415.0" stroke="#0f6b3e" stroke-width="1"/>
<rect x="479.9" y="389.3" width="2.3" height="1.0" fill="#1fa866" stroke="#0f6b3e" stroke-width="0.6"/>
<path d="M484.3 378.9V386.6" stroke="#0f6b3e" stroke-width="1"/>
<rect x="483.2" y="383.9" width="2.3" height="2.1" fill="#1fa866" stroke="#0f6b3e" stroke-width="0.6"/>
<path d="M487.7 377.4V382.6" stroke="#0f6b3e" stroke-width="1"/>
<rect x="486.5" y="378.9" width="2.3" height="2.1" fill="#1fa866" stroke="#0f6b3e" stroke-width="0.6"/>
<path d="M491.0 371.1V379.7" stroke="#0f6b3e" stroke-width="1"/>
<rect x="489.9" y="376.1" width="2.3" height="3.1" fill="#1fa866" stroke="#0f6b3e" stroke-width="0.6"/>
<path d="M494.3 373.4V382.5" stroke="#0f6b3e" stroke-width="1"/>
<rect x="493.2" y="375.9" width="2.3" height="1.6" fill="#1fa866" stroke="#0f6b3e" stroke-width="0.6"/>
<path d="M498.3 356.7V376.7" stroke="#0f6b3e" stroke-width="1"/>
<rect x="497.2" y="361.7" width="2.3" height="10.0" fill="#1fa866" stroke="#0f6b3e" stroke-width="0.6"/>
<path d="M502.3 348.7V361.7" stroke="#0f6b3e" stroke-width="1"/>
<rect x="501.2" y="351.7" width="2.3" height="10.0" fill="#1fa866" stroke="#0f6b3e" stroke-width="0.6"/>
<path d="M505.0 349.4V354.0" stroke="#701818" stroke-width="1"/>
<rect x="503.9" y="350.9" width="2.3" height="1.6" fill="#e2605a" stroke="#701818" stroke-width="0.6"/>
<path d="M509.0 311.3V336.7" stroke="#0f6b3e" stroke-width="1"/>
<rect x="507.9" y="313.3" width="2.3" height="23.3" fill="#1fa866" stroke="#0f6b3e" stroke-width="0.6"/>
<path d="M512.3 307.5V317.6" stroke="#701818" stroke-width="1"/>
<rect x="511.2" y="312.5" width="2.3" height="1.6" fill="#e2605a" stroke="#701818" stroke-width="0.6"/>
<path d="M515.7 312.0V317.6" stroke="#701818" stroke-width="1"/>
<rect x="514.5" y="312.5" width="2.3" height="1.6" fill="#e2605a" stroke="#701818" stroke-width="0.6"/>
<path d="M519.0 303.7V316.3" stroke="#0f6b3e" stroke-width="1"/>
<rect x="517.9" y="308.7" width="2.3" height="2.6" fill="#1fa866" stroke="#0f6b3e" stroke-width="0.6"/>
<path d="M522.3 291.7V311.7" stroke="#0f6b3e" stroke-width="1"/>
<rect x="521.2" y="296.7" width="2.3" height="10.0" fill="#1fa866" stroke="#0f6b3e" stroke-width="0.6"/>
<path d="M526.0 288.0V301.0" stroke="#0f6b3e" stroke-width="1"/>
<rect x="524.9" y="289.0" width="2.3" height="10.0" fill="#1fa866" stroke="#0f6b3e" stroke-width="0.6"/>
<path d="M529.7 260.0V291.0" stroke="#0f6b3e" stroke-width="1"/>
<rect x="528.6" y="272.0" width="2.3" height="16.5" fill="#1fa866" stroke="#0f6b3e" stroke-width="0.6"/>
<path d="M533.0 264.8V274.4" stroke="#0f6b3e" stroke-width="1"/>
<rect x="531.9" y="269.8" width="2.3" height="3.1" fill="#1fa866" stroke="#0f6b3e" stroke-width="0.6"/>
<path d="M537.0 252.0V279.0" stroke="#0f6b3e" stroke-width="1"/>
<rect x="535.9" y="259.0" width="2.3" height="13.5" fill="#1fa866" stroke="#0f6b3e" stroke-width="0.6"/>
<path d="M540.3 253.3V328.0" stroke="#701818" stroke-width="1"/>
<rect x="539.1" y="258.3" width="2.3" height="68.7" fill="#e2605a" stroke="#701818" stroke-width="0.6"/>
<path d="M543.3 325.3V379.3" stroke="#701818" stroke-width="1"/>
<rect x="542.2" y="328.3" width="2.3" height="50.0" fill="#e2605a" stroke="#701818" stroke-width="0.6"/>
<path d="M546.7 363.7V406.7" stroke="#701818" stroke-width="1"/>
<rect x="545.5" y="366.7" width="2.3" height="40.0" fill="#e2605a" stroke="#701818" stroke-width="0.6"/>
<path d="M550.7 403.7V421.3" stroke="#701818" stroke-width="1"/>
<rect x="549.5" y="406.7" width="2.3" height="11.7" fill="#e2605a" stroke="#701818" stroke-width="0.6"/>
<path d="M554.0 413.0V426.7" stroke="#701818" stroke-width="1"/>
<rect x="552.9" y="415.0" width="2.3" height="11.7" fill="#e2605a" stroke="#701818" stroke-width="0.6"/>
<path d="M557.3 418.8V424.9" stroke="#0f6b3e" stroke-width="1"/>
<rect x="556.2" y="422.3" width="2.3" height="2.1" fill="#1fa866" stroke="#0f6b3e" stroke-width="0.6"/>
<path d="M561.7 407.3V425.3" stroke="#0f6b3e" stroke-width="1"/>
<rect x="560.5" y="408.3" width="2.3" height="15.0" fill="#1fa866" stroke="#0f6b3e" stroke-width="0.6"/>
<path d="M564.0 406.0V411.6" stroke="#701818" stroke-width="1"/>
<rect x="562.9" y="407.5" width="2.3" height="1.6" fill="#e2605a" stroke="#701818" stroke-width="0.6"/>
<path d="M568.3 409.0V485.3" stroke="#701818" stroke-width="1"/>
<rect x="567.2" y="410.0" width="2.3" height="73.3" fill="#e2605a" stroke="#701818" stroke-width="0.6"/>
<path d="M571.7 485.7V499.7" stroke="#701818" stroke-width="1"/>
<rect x="570.5" y="486.7" width="2.3" height="10.0" fill="#e2605a" stroke="#701818" stroke-width="0.6"/>
<path d="M575.7 467.3V496.7" stroke="#0f6b3e" stroke-width="1"/>
<rect x="574.5" y="468.3" width="2.3" height="28.3" fill="#1fa866" stroke="#0f6b3e" stroke-width="0.6"/>
<path d="M579.0 454.9V463.1" stroke="#0f6b3e" stroke-width="1"/>
<rect x="577.9" y="458.4" width="2.3" height="3.1" fill="#1fa866" stroke="#0f6b3e" stroke-width="0.6"/>
<path d="M582.3 405.0V471.0" stroke="#0f6b3e" stroke-width="1"/>
<rect x="581.2" y="415.0" width="2.3" height="55.0" fill="#1fa866" stroke="#0f6b3e" stroke-width="0.6"/>
<path d="M585.7 410.3V450.0" stroke="#701818" stroke-width="1"/>
<rect x="584.5" y="413.3" width="2.3" height="31.7" fill="#e2605a" stroke="#701818" stroke-width="0.6"/>
<path d="M589.0 439.3V448.4" stroke="#0f6b3e" stroke-width="1"/>
<rect x="587.9" y="441.8" width="2.3" height="3.1" fill="#1fa866" stroke="#0f6b3e" stroke-width="0.6"/>
<path d="M592.3 502.3V550.0" stroke="#701818" stroke-width="1"/>
<rect x="591.2" y="503.3" width="2.3" height="26.7" fill="#e2605a" stroke="#701818" stroke-width="0.6"/>
<path d="M595.7 524.7V556.7" stroke="#701818" stroke-width="1"/>
<rect x="594.5" y="526.7" width="2.3" height="30.0" fill="#e2605a" stroke="#701818" stroke-width="0.6"/>
<path d="M599.0 533.2V538.8" stroke="#0f6b3e" stroke-width="1"/>
<rect x="597.9" y="533.7" width="2.3" height="2.6" fill="#1fa866" stroke="#0f6b3e" stroke-width="0.6"/>
<path d="M602.3 510.0V539.7" stroke="#0f6b3e" stroke-width="1"/>
<rect x="601.2" y="515.0" width="2.3" height="21.7" fill="#1fa866" stroke="#0f6b3e" stroke-width="0.6"/>
<path d="M605.7 503.7V520.0" stroke="#0f6b3e" stroke-width="1"/>
<rect x="604.5" y="506.7" width="2.3" height="13.3" fill="#1fa866" stroke="#0f6b3e" stroke-width="0.6"/>
<path d="M609.3 503.7V543.7" stroke="#701818" stroke-width="1"/>
<rect x="608.2" y="506.7" width="2.3" height="35.0" fill="#e2605a" stroke="#701818" stroke-width="0.6"/>
<path d="M613.3 536.7V566.7" stroke="#701818" stroke-width="1"/>
<rect x="612.2" y="541.7" width="2.3" height="20.0" fill="#e2605a" stroke="#701818" stroke-width="0.6"/>
<path d="M617.3 551.0V559.1" stroke="#0f6b3e" stroke-width="1"/>
<rect x="616.2" y="556.0" width="2.3" height="2.6" fill="#1fa866" stroke="#0f6b3e" stroke-width="0.6"/>
<path d="M620.7 495.0V512.7" stroke="#0f6b3e" stroke-width="1"/>
<rect x="619.5" y="495.0" width="2.3" height="16.7" fill="#1fa866" stroke="#0f6b3e" stroke-width="0.6"/>
<path d="M625.0 473.3V490.0" stroke="#0f6b3e" stroke-width="1"/>
<rect x="623.9" y="473.3" width="2.3" height="16.7" fill="#1fa866" stroke="#0f6b3e" stroke-width="0.6"/>
<path d="M628.3 459.7V475.3" stroke="#0f6b3e" stroke-width="1"/>
<rect x="627.2" y="461.7" width="2.3" height="11.7" fill="#1fa866" stroke="#0f6b3e" stroke-width="0.6"/>
<path d="M631.7 453.3V462.7" stroke="#0f6b3e" stroke-width="1"/>
<rect x="630.5" y="453.3" width="2.3" height="8.3" fill="#1fa866" stroke="#0f6b3e" stroke-width="0.6"/>
<path d="M635.0 439.7V454.3" stroke="#0f6b3e" stroke-width="1"/>
<rect x="633.9" y="441.7" width="2.3" height="11.7" fill="#1fa866" stroke="#0f6b3e" stroke-width="0.6"/>
<path d="M638.3 437.6V446.7" stroke="#701818" stroke-width="1"/>
<rect x="637.2" y="440.1" width="2.3" height="3.1" fill="#e2605a" stroke="#701818" stroke-width="0.6"/>
<path d="M641.7 431.7V485.0" stroke="#701818" stroke-width="1"/>
<rect x="640.5" y="440.0" width="2.3" height="40.0" fill="#e2605a" stroke="#701818" stroke-width="0.6"/>
<path d="M645.7 474.3V480.4" stroke="#0f6b3e" stroke-width="1"/>
<rect x="644.5" y="476.8" width="2.3" height="3.1" fill="#1fa866" stroke="#0f6b3e" stroke-width="0.6"/>
<path d="M649.0 451.3V480.0" stroke="#0f6b3e" stroke-width="1"/>
<rect x="647.9" y="453.3" width="2.3" height="26.7" fill="#1fa866" stroke="#0f6b3e" stroke-width="0.6"/>
<path d="M652.3 450.7V491.3" stroke="#701818" stroke-width="1"/>
<rect x="651.2" y="451.7" width="2.3" height="36.7" fill="#e2605a" stroke="#701818" stroke-width="0.6"/>
<path d="M655.7 488.3V500.3" stroke="#701818" stroke-width="1"/>
<rect x="654.5" y="488.3" width="2.3" height="10.0" fill="#e2605a" stroke="#701818" stroke-width="0.6"/>
<path d="M659.0 495.4V500.0" stroke="#0f6b3e" stroke-width="1"/>
<rect x="657.9" y="495.9" width="2.3" height="1.6" fill="#1fa866" stroke="#0f6b3e" stroke-width="0.6"/>
<path d="M662.3 498.3V513.3" stroke="#701818" stroke-width="1"/>
<rect x="661.2" y="498.3" width="2.3" height="10.0" fill="#e2605a" stroke="#701818" stroke-width="0.6"/>
<path d="M665.7 505.7V518.3" stroke="#701818" stroke-width="1"/>
<rect x="664.5" y="506.7" width="2.3" height="11.7" fill="#e2605a" stroke="#701818" stroke-width="0.6"/>
<path d="M670.0 516.3V563.3" stroke="#701818" stroke-width="1"/>
<rect x="668.9" y="518.3" width="2.3" height="35.0" fill="#e2605a" stroke="#701818" stroke-width="0.6"/>
<path d="M673.3 549.6V555.7" stroke="#0f6b3e" stroke-width="1"/>
<rect x="672.2" y="550.1" width="2.3" height="3.1" fill="#1fa866" stroke="#0f6b3e" stroke-width="0.6"/>
<path d="M676.7 521.7V546.3" stroke="#0f6b3e" stroke-width="1"/>
<rect x="675.5" y="526.7" width="2.3" height="16.7" fill="#1fa866" stroke="#0f6b3e" stroke-width="0.6"/>
<path d="M680.0 498.3V548.3" stroke="#0f6b3e" stroke-width="1"/>
<rect x="678.9" y="516.7" width="2.3" height="26.7" fill="#1fa866" stroke="#0f6b3e" stroke-width="0.6"/>
<path d="M683.3 518.5V526.0" stroke="#701818" stroke-width="1"/>
<rect x="682.2" y="519.0" width="2.3" height="2.1" fill="#e2605a" stroke="#701818" stroke-width="0.6"/>
<path d="M687.3 519.0V528.3" stroke="#701818" stroke-width="1"/>
<rect x="686.2" y="520.0" width="2.3" height="8.3" fill="#e2605a" stroke="#701818" stroke-width="0.6"/>
<path d="M691.7 534.0V563.7" stroke="#701818" stroke-width="1"/>
<rect x="690.5" y="535.0" width="2.3" height="26.7" fill="#e2605a" stroke="#701818" stroke-width="0.6"/>
<path d="M694.3 530.0V547.7" stroke="#0f6b3e" stroke-width="1"/>
<rect x="693.2" y="530.0" width="2.3" height="16.7" fill="#1fa866" stroke="#0f6b3e" stroke-width="0.6"/>
<path d="M697.7 526.5V533.5" stroke="#701818" stroke-width="1"/>
<rect x="696.5" y="529.0" width="2.3" height="2.1" fill="#e2605a" stroke="#701818" stroke-width="0.6"/>
<path d="M704.3 470.0V502.7" stroke="#0f6b3e" stroke-width="1"/>
<rect x="703.2" y="475.0" width="2.3" height="26.7" fill="#1fa866" stroke="#0f6b3e" stroke-width="0.6"/>
<path d="M708.3 463.0V479.7" stroke="#0f6b3e" stroke-width="1"/>
<rect x="707.2" y="465.0" width="2.3" height="11.7" fill="#1fa866" stroke="#0f6b3e" stroke-width="0.6"/>
<path d="M711.7 453.3V471.0" stroke="#0f6b3e" stroke-width="1"/>
<rect x="710.5" y="458.3" width="2.3" height="11.7" fill="#1fa866" stroke="#0f6b3e" stroke-width="0.6"/>
<path d="M715.0 456.2V461.8" stroke="#701818" stroke-width="1"/>
<rect x="713.9" y="458.7" width="2.3" height="2.6" fill="#e2605a" stroke="#701818" stroke-width="0.6"/>
<path d="M718.3 456.3V468.3" stroke="#701818" stroke-width="1"/>
<rect x="717.2" y="458.3" width="2.3" height="10.0" fill="#e2605a" stroke="#701818" stroke-width="0.6"/>
<path d="M721.7 466.0V473.1" stroke="#0f6b3e" stroke-width="1"/>
<rect x="720.5" y="466.5" width="2.3" height="1.6" fill="#1fa866" stroke="#0f6b3e" stroke-width="0.6"/>
<path d="M725.0 455.0V483.3" stroke="#701818" stroke-width="1"/>
<rect x="723.9" y="468.3" width="2.3" height="1.0" fill="#e2605a" stroke="#701818" stroke-width="0.6"/>
<path d="M729.0 466.9V475.1" stroke="#701818" stroke-width="1"/>
<rect x="727.9" y="468.4" width="2.3" height="3.1" fill="#e2605a" stroke="#701818" stroke-width="0.6"/>
<path d="M732.3 426.7V447.3" stroke="#701818" stroke-width="1"/>
<rect x="731.2" y="443.3" width="2.3" height="1.0" fill="#e2605a" stroke="#701818" stroke-width="0.6"/>
<path d="M736.7 435.3V450.0" stroke="#0f6b3e" stroke-width="1"/>
<rect x="735.5" y="438.3" width="2.3" height="6.7" fill="#1fa866" stroke="#0f6b3e" stroke-width="0.6"/>
<path d="M740.0 437.0V456.7" stroke="#701818" stroke-width="1"/>
<rect x="738.9" y="440.0" width="2.3" height="11.7" fill="#e2605a" stroke="#701818" stroke-width="0.6"/>
<path d="M743.3 446.3V454.3" stroke="#701818" stroke-width="1"/>
<rect x="742.2" y="448.3" width="2.3" height="5.0" fill="#e2605a" stroke="#701818" stroke-width="0.6"/>
<path d="M746.7 449.0V456.0" stroke="#701818" stroke-width="1"/>
<rect x="745.5" y="450.0" width="2.3" height="4.0" fill="#e2605a" stroke="#701818" stroke-width="0.6"/>
<path d="M750.0 453.4V460.6" stroke="#701818" stroke-width="1"/>
<rect x="748.9" y="454.9" width="2.3" height="2.1" fill="#e2605a" stroke="#701818" stroke-width="0.6"/>
<path d="M754.0 454.7V480.0" stroke="#701818" stroke-width="1"/>
<rect x="752.9" y="456.7" width="2.3" height="13.3" fill="#e2605a" stroke="#701818" stroke-width="0.6"/>
<path d="M757.3 467.8V470.9" stroke="#0f6b3e" stroke-width="1"/>
<rect x="756.2" y="468.3" width="2.3" height="2.1" fill="#1fa866" stroke="#0f6b3e" stroke-width="0.6"/>
<path d="M760.7 453.0V466.3" stroke="#0f6b3e" stroke-width="1"/>
<rect x="759.5" y="455.0" width="2.3" height="8.3" fill="#1fa866" stroke="#0f6b3e" stroke-width="0.6"/>
<path d="M764.3 445.7V456.7" stroke="#0f6b3e" stroke-width="1"/>
<rect x="763.2" y="446.7" width="2.3" height="10.0" fill="#1fa866" stroke="#0f6b3e" stroke-width="0.6"/>
<path d="M767.3 431.7V449.7" stroke="#0f6b3e" stroke-width="1"/>
<rect x="766.2" y="431.7" width="2.3" height="15.0" fill="#1fa866" stroke="#0f6b3e" stroke-width="0.6"/>
<path d="M771.7 425.4V434.5" stroke="#701818" stroke-width="1"/>
<rect x="770.5" y="430.4" width="2.3" height="2.6" fill="#e2605a" stroke="#701818" stroke-width="0.6"/>
<path d="M775.0 430.5V437.1" stroke="#701818" stroke-width="1"/>
<rect x="773.9" y="431.0" width="2.3" height="2.6" fill="#e2605a" stroke="#701818" stroke-width="0.6"/>
<path d="M777.7 403.3V434.3" stroke="#0f6b3e" stroke-width="1"/>
<rect x="776.5" y="423.3" width="2.3" height="10.0" fill="#1fa866" stroke="#0f6b3e" stroke-width="0.6"/>
<path d="M781.7 421.3V466.3" stroke="#701818" stroke-width="1"/>
<rect x="780.5" y="423.3" width="2.3" height="40.0" fill="#e2605a" stroke="#701818" stroke-width="0.6"/>
<path d="M785.0 458.4V465.0" stroke="#0f6b3e" stroke-width="1"/>
<rect x="783.9" y="460.9" width="2.3" height="1.6" fill="#1fa866" stroke="#0f6b3e" stroke-width="0.6"/>
<path d="M788.3 496.3V530.0" stroke="#701818" stroke-width="1"/>
<rect x="787.2" y="498.3" width="2.3" height="7.7" fill="#e2605a" stroke="#701818" stroke-width="0.6"/>
<path d="M792.3 466.7V504.3" stroke="#0f6b3e" stroke-width="1"/>
<rect x="791.2" y="476.7" width="2.3" height="26.7" fill="#1fa866" stroke="#0f6b3e" stroke-width="0.6"/>
<path d="M795.7 458.3V485.3" stroke="#701818" stroke-width="1"/>
<rect x="794.5" y="476.7" width="2.3" height="6.7" fill="#e2605a" stroke="#701818" stroke-width="0.6"/>
<path d="M800.0 482.3V510.3" stroke="#701818" stroke-width="1"/>
<rect x="798.9" y="483.3" width="2.3" height="25.0" fill="#e2605a" stroke="#701818" stroke-width="0.6"/>
<path d="M803.3 497.3V506.7" stroke="#701818" stroke-width="1"/>
<rect x="802.2" y="498.3" width="2.3" height="8.3" fill="#e2605a" stroke="#701818" stroke-width="0.6"/>
<path d="M806.7 501.9V508.5" stroke="#701818" stroke-width="1"/>
<rect x="805.5" y="505.4" width="2.3" height="2.6" fill="#e2605a" stroke="#701818" stroke-width="0.6"/>
<path d="M810.0 482.0V508.7" stroke="#0f6b3e" stroke-width="1"/>
<rect x="808.9" y="485.0" width="2.3" height="21.7" fill="#1fa866" stroke="#0f6b3e" stroke-width="0.6"/>
<path d="M813.3 483.4V492.1" stroke="#701818" stroke-width="1"/>
<rect x="812.2" y="484.9" width="2.3" height="2.1" fill="#e2605a" stroke="#701818" stroke-width="0.6"/>
<path d="M816.7 493.3V505.0" stroke="#701818" stroke-width="1"/>
<rect x="815.5" y="493.3" width="2.3" height="11.7" fill="#e2605a" stroke="#701818" stroke-width="0.6"/>
<path d="M820.7 478.3V503.3" stroke="#0f6b3e" stroke-width="1"/>
<rect x="819.5" y="496.7" width="2.3" height="6.7" fill="#1fa866" stroke="#0f6b3e" stroke-width="0.6"/>
<path d="M823.3 487.3V501.3" stroke="#0f6b3e" stroke-width="1"/>
<rect x="822.2" y="488.3" width="2.3" height="10.0" fill="#1fa866" stroke="#0f6b3e" stroke-width="0.6"/>
<path d="M827.7 483.3V516.7" stroke="#701818" stroke-width="1"/>
<rect x="826.5" y="488.3" width="2.3" height="28.3" fill="#e2605a" stroke="#701818" stroke-width="0.6"/>
<path d="M831.0 513.7V560.0" stroke="#701818" stroke-width="1"/>
<rect x="829.9" y="516.7" width="2.3" height="23.3" fill="#e2605a" stroke="#701818" stroke-width="0.6"/>
<path d="M834.0 529.7V542.0" stroke="#0f6b3e" stroke-width="1"/>
<rect x="832.9" y="531.7" width="2.3" height="8.3" fill="#1fa866" stroke="#0f6b3e" stroke-width="0.6"/>
<path d="M838.3 529.1V536.7" stroke="#0f6b3e" stroke-width="1"/>
<rect x="837.2" y="529.6" width="2.3" height="2.1" fill="#1fa866" stroke="#0f6b3e" stroke-width="0.6"/>
<path d="M841.7 524.6V535.2" stroke="#701818" stroke-width="1"/>
<rect x="840.5" y="529.6" width="2.3" height="2.1" fill="#e2605a" stroke="#701818" stroke-width="0.6"/>
<path d="M844.3 556.3V649.7" stroke="#701818" stroke-width="1"/>
<rect x="843.2" y="558.3" width="2.3" height="88.3" fill="#e2605a" stroke="#701818" stroke-width="0.6"/>
<path d="M848.3 627.3V678.7" stroke="#701818" stroke-width="1"/>
<rect x="847.2" y="628.3" width="2.3" height="48.3" fill="#e2605a" stroke="#701818" stroke-width="0.6"/>
<path d="M851.7 656.7V698.3" stroke="#0f6b3e" stroke-width="1"/>
<rect x="850.5" y="675.0" width="2.3" height="3.3" fill="#1fa866" stroke="#0f6b3e" stroke-width="0.6"/>
<path d="M855.0 669.2V679.3" stroke="#701818" stroke-width="1"/>
<rect x="853.9" y="674.2" width="2.3" height="1.6" fill="#e2605a" stroke="#701818" stroke-width="0.6"/>
<path d="M858.3 661.7V676.0" stroke="#0f6b3e" stroke-width="1"/>
<rect x="857.2" y="666.7" width="2.3" height="8.3" fill="#1fa866" stroke="#0f6b3e" stroke-width="0.6"/>
<path d="M861.7 661.5V669.6" stroke="#701818" stroke-width="1"/>
<rect x="860.5" y="666.5" width="2.3" height="1.6" fill="#e2605a" stroke="#701818" stroke-width="0.6"/>
<path d="M865.7 621.7V668.3" stroke="#0f6b3e" stroke-width="1"/>
<rect x="864.5" y="621.7" width="2.3" height="46.7" fill="#1fa866" stroke="#0f6b3e" stroke-width="0.6"/>
<path d="M869.3 619.4V625.0" stroke="#701818" stroke-width="1"/>
<rect x="868.2" y="620.9" width="2.3" height="1.6" fill="#e2605a" stroke="#701818" stroke-width="0.6"/>
<path d="M872.7 601.7V629.7" stroke="#701818" stroke-width="1"/>
<rect x="871.5" y="618.3" width="2.3" height="8.3" fill="#e2605a" stroke="#701818" stroke-width="0.6"/>
<path d="M876.7 625.3V648.3" stroke="#701818" stroke-width="1"/>
<rect x="875.5" y="628.3" width="2.3" height="15.0" fill="#e2605a" stroke="#701818" stroke-width="0.6"/>
<path d="M880.0 635.0V650.0" stroke="#701818" stroke-width="1"/>
<rect x="878.9" y="635.0" width="2.3" height="6.7" fill="#e2605a" stroke="#701818" stroke-width="0.6"/>
<path d="M883.3 629.5V637.5" stroke="#0f6b3e" stroke-width="1"/>
<rect x="882.2" y="633.0" width="2.3" height="2.1" fill="#1fa866" stroke="#0f6b3e" stroke-width="0.6"/>
<path d="M886.7 610.0V638.0" stroke="#0f6b3e" stroke-width="1"/>
<rect x="885.5" y="610.0" width="2.3" height="25.0" fill="#1fa866" stroke="#0f6b3e" stroke-width="0.6"/>
<path d="M890.0 603.5V615.1" stroke="#0f6b3e" stroke-width="1"/>
<rect x="888.9" y="608.5" width="2.3" height="1.6" fill="#1fa866" stroke="#0f6b3e" stroke-width="0.6"/>
<path d="M893.3 588.3V610.0" stroke="#0f6b3e" stroke-width="1"/>
<rect x="892.2" y="596.7" width="2.3" height="8.3" fill="#1fa866" stroke="#0f6b3e" stroke-width="0.6"/>
<path d="M896.7 592.4V600.0" stroke="#701818" stroke-width="1"/>
<rect x="895.5" y="595.9" width="2.3" height="1.6" fill="#e2605a" stroke="#701818" stroke-width="0.6"/>
<path d="M900.7 565.0V588.7" stroke="#701818" stroke-width="1"/>
<rect x="899.5" y="573.3" width="2.3" height="13.3" fill="#e2605a" stroke="#701818" stroke-width="0.6"/>
<path d="M904.3 585.7V604.3" stroke="#701818" stroke-width="1"/>
<rect x="903.2" y="586.7" width="2.3" height="16.7" fill="#e2605a" stroke="#701818" stroke-width="0.6"/>
<path d="M908.3 604.0V623.0" stroke="#701818" stroke-width="1"/>
<rect x="907.2" y="605.0" width="2.3" height="15.0" fill="#e2605a" stroke="#701818" stroke-width="0.6"/>
<path d="M911.7 603.7V623.0" stroke="#0f6b3e" stroke-width="1"/>
<rect x="910.5" y="606.7" width="2.3" height="13.3" fill="#1fa866" stroke="#0f6b3e" stroke-width="0.6"/>
<path d="M915.0 606.7V636.3" stroke="#701818" stroke-width="1"/>
<rect x="913.9" y="606.7" width="2.3" height="26.7" fill="#e2605a" stroke="#701818" stroke-width="0.6"/>
<path d="M917.7 631.3V681.7" stroke="#701818" stroke-width="1"/>
<rect x="916.5" y="633.3" width="2.3" height="48.3" fill="#e2605a" stroke="#701818" stroke-width="0.6"/>
<path d="M921.7 678.3V691.0" stroke="#701818" stroke-width="1"/>
<rect x="920.5" y="683.3" width="2.3" height="6.7" fill="#e2605a" stroke="#701818" stroke-width="0.6"/>
<path d="M925.0 684.9V693.0" stroke="#701818" stroke-width="1"/>
<rect x="923.9" y="689.9" width="2.3" height="1.6" fill="#e2605a" stroke="#701818" stroke-width="0.6"/>
<path d="M929.3 696.3V730.0" stroke="#701818" stroke-width="1"/>
<rect x="928.2" y="698.3" width="2.3" height="3.3" fill="#e2605a" stroke="#701818" stroke-width="0.6"/>
<path d="M932.7 689.7V710.0" stroke="#0f6b3e" stroke-width="1"/>
<rect x="931.5" y="691.7" width="2.3" height="10.0" fill="#1fa866" stroke="#0f6b3e" stroke-width="0.6"/>
<path d="M936.0 670.0V691.0" stroke="#0f6b3e" stroke-width="1"/>
<rect x="934.9" y="675.0" width="2.3" height="15.0" fill="#1fa866" stroke="#0f6b3e" stroke-width="0.6"/>
<path d="M939.3 658.3V693.3" stroke="#0f6b3e" stroke-width="1"/>
<rect x="938.2" y="658.3" width="2.3" height="16.7" fill="#1fa866" stroke="#0f6b3e" stroke-width="0.6"/>
<path d="M942.7 631.7V661.3" stroke="#0f6b3e" stroke-width="1"/>
<rect x="941.5" y="645.0" width="2.3" height="13.3" fill="#1fa866" stroke="#0f6b3e" stroke-width="0.6"/>
<path d="M946.0 644.7V688.3" stroke="#701818" stroke-width="1"/>
<rect x="944.9" y="646.7" width="2.3" height="41.7" fill="#e2605a" stroke="#701818" stroke-width="0.6"/>
<path d="M949.3 680.5V688.5" stroke="#0f6b3e" stroke-width="1"/>
<rect x="948.2" y="684.0" width="2.3" height="2.1" fill="#1fa866" stroke="#0f6b3e" stroke-width="0.6"/>
<path d="M952.7 676.9V686.5" stroke="#0f6b3e" stroke-width="1"/>
<rect x="951.5" y="680.4" width="2.3" height="2.6" fill="#1fa866" stroke="#0f6b3e" stroke-width="0.6"/>
<path d="M956.7 682.0V705.0" stroke="#0f6b3e" stroke-width="1"/>
<rect x="955.5" y="685.0" width="2.3" height="20.0" fill="#1fa866" stroke="#0f6b3e" stroke-width="0.6"/>
<path d="M960.0 665.0V686.0" stroke="#0f6b3e" stroke-width="1"/>
<rect x="958.9" y="670.0" width="2.3" height="15.0" fill="#1fa866" stroke="#0f6b3e" stroke-width="0.6"/>
<path d="M964.0 666.3V678.3" stroke="#0f6b3e" stroke-width="1"/>
<rect x="962.9" y="668.3" width="2.3" height="10.0" fill="#1fa866" stroke="#0f6b3e" stroke-width="0.6"/>
<path d="M967.3 657.0V670.0" stroke="#0f6b3e" stroke-width="1"/>
<rect x="966.2" y="660.0" width="2.3" height="10.0" fill="#1fa866" stroke="#0f6b3e" stroke-width="0.6"/>
<path d="M970.7 643.0V666.3" stroke="#0f6b3e" stroke-width="1"/>
<rect x="969.5" y="645.0" width="2.3" height="18.3" fill="#1fa866" stroke="#0f6b3e" stroke-width="0.6"/>
<path d="M974.0 626.7V651.7" stroke="#0f6b3e" stroke-width="1"/>
<rect x="972.9" y="626.7" width="2.3" height="20.0" fill="#1fa866" stroke="#0f6b3e" stroke-width="0.6"/>
<path d="M978.3 605.0V628.7" stroke="#0f6b3e" stroke-width="1"/>
<rect x="977.2" y="616.7" width="2.3" height="10.0" fill="#1fa866" stroke="#0f6b3e" stroke-width="0.6"/>
<path d="M981.7 610.3V616.4" stroke="#0f6b3e" stroke-width="1"/>
<rect x="980.5" y="611.8" width="2.3" height="3.1" fill="#1fa866" stroke="#0f6b3e" stroke-width="0.6"/>
<path d="M984.3 535.0V588.3" stroke="#0f6b3e" stroke-width="1"/>
<rect x="983.2" y="553.3" width="2.3" height="30.0" fill="#1fa866" stroke="#0f6b3e" stroke-width="0.6"/>
<path d="M988.3 523.3V556.0" stroke="#0f6b3e" stroke-width="1"/>
<rect x="987.2" y="538.3" width="2.3" height="16.7" fill="#1fa866" stroke="#0f6b3e" stroke-width="0.6"/>
<path d="M991.7 525.0V542.0" stroke="#0f6b3e" stroke-width="1"/>
<rect x="990.5" y="530.0" width="2.3" height="10.0" fill="#1fa866" stroke="#0f6b3e" stroke-width="0.6"/>
<path d="M995.0 519.7V532.7" stroke="#0f6b3e" stroke-width="1"/>
<rect x="993.9" y="521.7" width="2.3" height="10.0" fill="#1fa866" stroke="#0f6b3e" stroke-width="0.6"/>
<path d="M998.3 521.5V527.1" stroke="#701818" stroke-width="1"/>
<rect x="997.2" y="522.0" width="2.3" height="2.6" fill="#e2605a" stroke="#701818" stroke-width="0.6"/>
<path d="M1001.7 520.5V529.5" stroke="#701818" stroke-width="1"/>
<rect x="1000.5" y="524.0" width="2.3" height="2.1" fill="#e2605a" stroke="#701818" stroke-width="0.6"/>
<path d="M1005.7 523.7V543.3" stroke="#701818" stroke-width="1"/>
<rect x="1004.5" y="526.7" width="2.3" height="16.7" fill="#e2605a" stroke="#701818" stroke-width="0.6"/>
<path d="M1009.0 541.8V547.9" stroke="#701818" stroke-width="1"/>
<rect x="1007.9" y="542.3" width="2.3" height="2.1" fill="#e2605a" stroke="#701818" stroke-width="0.6"/>
<path d="M1013.3 546.6V555.7" stroke="#701818" stroke-width="1"/>
<rect x="1012.2" y="550.1" width="2.3" height="3.1" fill="#e2605a" stroke="#701818" stroke-width="0.6"/>
<path d="M1016.7 552.3V568.0" stroke="#701818" stroke-width="1"/>
<rect x="1015.5" y="553.3" width="2.3" height="11.7" fill="#e2605a" stroke="#701818" stroke-width="0.6"/>
<path d="M1020.0 563.0V586.7" stroke="#701818" stroke-width="1"/>
<rect x="1018.9" y="565.0" width="2.3" height="11.7" fill="#e2605a" stroke="#701818" stroke-width="0.6"/>
<path d="M1023.3 573.2V578.8" stroke="#0f6b3e" stroke-width="1"/>
<rect x="1022.2" y="573.7" width="2.3" height="2.6" fill="#1fa866" stroke="#0f6b3e" stroke-width="0.6"/>
<path d="M1025.7 556.7V577.0" stroke="#0f6b3e" stroke-width="1"/>
<rect x="1024.5" y="556.7" width="2.3" height="18.3" fill="#1fa866" stroke="#0f6b3e" stroke-width="0.6"/>
<path d="M1029.0 555.2V561.8" stroke="#701818" stroke-width="1"/>
<rect x="1027.8" y="558.7" width="2.3" height="2.6" fill="#e2605a" stroke="#701818" stroke-width="0.6"/>
<path d="M1033.3 547.3V566.7" stroke="#0f6b3e" stroke-width="1"/>
<rect x="1032.2" y="548.3" width="2.3" height="18.3" fill="#1fa866" stroke="#0f6b3e" stroke-width="0.6"/>
<path d="M1036.7 559.5V567.1" stroke="#701818" stroke-width="1"/>
<rect x="1035.5" y="562.0" width="2.3" height="2.6" fill="#e2605a" stroke="#701818" stroke-width="0.6"/>
<path d="M1040.0 515.0V556.3" stroke="#0f6b3e" stroke-width="1"/>
<rect x="1038.8" y="515.0" width="2.3" height="38.3" fill="#1fa866" stroke="#0f6b3e" stroke-width="0.6"/>
<path d="M1044.0 498.7V520.0" stroke="#0f6b3e" stroke-width="1"/>
<rect x="1042.8" y="501.7" width="2.3" height="13.3" fill="#1fa866" stroke="#0f6b3e" stroke-width="0.6"/>
<path d="M1047.3 486.7V503.7" stroke="#0f6b3e" stroke-width="1"/>
<rect x="1046.2" y="486.7" width="2.3" height="15.0" fill="#1fa866" stroke="#0f6b3e" stroke-width="0.6"/>
<path d="M1050.7 473.7V488.7" stroke="#0f6b3e" stroke-width="1"/>
<rect x="1049.5" y="476.7" width="2.3" height="10.0" fill="#1fa866" stroke="#0f6b3e" stroke-width="0.6"/>
<path d="M1054.3 473.3V480.3" stroke="#0f6b3e" stroke-width="1"/>
<rect x="1053.2" y="473.3" width="2.3" height="5.0" fill="#1fa866" stroke="#0f6b3e" stroke-width="0.6"/>
<path d="M1057.7 463.3V500.0" stroke="#701818" stroke-width="1"/>
<rect x="1056.5" y="473.3" width="2.3" height="26.7" fill="#e2605a" stroke="#701818" stroke-width="0.6"/>
<path d="M1061.7 498.0V533.3" stroke="#701818" stroke-width="1"/>
<rect x="1060.5" y="500.0" width="2.3" height="5.0" fill="#e2605a" stroke="#701818" stroke-width="0.6"/>
<path d="M1065.0 504.8V512.9" stroke="#701818" stroke-width="1"/>
<rect x="1063.8" y="507.3" width="2.3" height="2.1" fill="#e2605a" stroke="#701818" stroke-width="0.6"/>
<path d="M1068.3 461.7V495.3" stroke="#701818" stroke-width="1"/>
<rect x="1067.2" y="480.0" width="2.3" height="13.3" fill="#e2605a" stroke="#701818" stroke-width="0.6"/>
<path d="M1072.3 488.1V496.2" stroke="#0f6b3e" stroke-width="1"/>
<rect x="1071.2" y="490.6" width="2.3" height="2.1" fill="#1fa866" stroke="#0f6b3e" stroke-width="0.6"/>
<path d="M1075.7 484.0V494.1" stroke="#0f6b3e" stroke-width="1"/>
<rect x="1074.5" y="487.5" width="2.3" height="1.6" fill="#1fa866" stroke="#0f6b3e" stroke-width="0.6"/>
<path d="M1079.0 485.1V488.2" stroke="#0f6b3e" stroke-width="1"/>
<rect x="1077.8" y="485.6" width="2.3" height="2.1" fill="#1fa866" stroke="#0f6b3e" stroke-width="0.6"/>
<path d="M1082.7 487.0V513.0" stroke="#701818" stroke-width="1"/>
<rect x="1081.5" y="490.0" width="2.3" height="20.0" fill="#e2605a" stroke="#701818" stroke-width="0.6"/>
<path d="M1085.7 498.1V506.2" stroke="#0f6b3e" stroke-width="1"/>
<rect x="1084.5" y="500.6" width="2.3" height="2.1" fill="#1fa866" stroke="#0f6b3e" stroke-width="0.6"/>
<path d="M1089.0 494.2V502.3" stroke="#0f6b3e" stroke-width="1"/>
<rect x="1087.8" y="499.2" width="2.3" height="1.6" fill="#1fa866" stroke="#0f6b3e" stroke-width="0.6"/>
<path d="M1092.3 497.1V506.2" stroke="#701818" stroke-width="1"/>
<rect x="1091.2" y="500.6" width="2.3" height="2.1" fill="#e2605a" stroke="#701818" stroke-width="0.6"/>
<path d="M1096.7 534.7V553.7" stroke="#0f6b3e" stroke-width="1"/>
<rect x="1095.5" y="536.7" width="2.3" height="15.0" fill="#1fa866" stroke="#0f6b3e" stroke-width="0.6"/>
<path d="M1100.0 528.0V540.3" stroke="#0f6b3e" stroke-width="1"/>
<rect x="1098.8" y="530.0" width="2.3" height="8.3" fill="#1fa866" stroke="#0f6b3e" stroke-width="0.6"/>
<path d="M1103.3 534.7V554.7" stroke="#701818" stroke-width="1"/>
<rect x="1102.2" y="536.7" width="2.3" height="15.0" fill="#e2605a" stroke="#701818" stroke-width="0.6"/>
<path d="M1106.7 500.7V552.0" stroke="#0f6b3e" stroke-width="1"/>
<rect x="1105.5" y="501.7" width="2.3" height="48.3" fill="#1fa866" stroke="#0f6b3e" stroke-width="0.6"/>
<path d="M1110.7 498.7V520.0" stroke="#0f6b3e" stroke-width="1"/>
<rect x="1109.5" y="501.7" width="2.3" height="13.3" fill="#1fa866" stroke="#0f6b3e" stroke-width="0.6"/>
<path d="M1113.3 499.6V504.7" stroke="#701818" stroke-width="1"/>
<rect x="1112.2" y="500.1" width="2.3" height="3.1" fill="#e2605a" stroke="#701818" stroke-width="0.6"/>
<path d="M1117.3 502.3V525.0" stroke="#701818" stroke-width="1"/>
<rect x="1116.2" y="503.3" width="2.3" height="21.7" fill="#e2605a" stroke="#701818" stroke-width="0.6"/>
<path d="M1121.0 519.0V529.5" stroke="#701818" stroke-width="1"/>
<rect x="1119.8" y="524.0" width="2.3" height="2.1" fill="#e2605a" stroke="#701818" stroke-width="0.6"/>
<path d="M1124.3 485.0V499.3" stroke="#0f6b3e" stroke-width="1"/>
<rect x="1123.2" y="490.0" width="2.3" height="8.3" fill="#1fa866" stroke="#0f6b3e" stroke-width="0.6"/>
<path d="M1127.7 457.0V490.3" stroke="#0f6b3e" stroke-width="1"/>
<rect x="1126.5" y="460.0" width="2.3" height="28.3" fill="#1fa866" stroke="#0f6b3e" stroke-width="0.6"/>
<path d="M1131.7 453.3V461.4" stroke="#0f6b3e" stroke-width="1"/>
<rect x="1130.5" y="456.8" width="2.3" height="3.1" fill="#1fa866" stroke="#0f6b3e" stroke-width="0.6"/>
<path d="M1135.0 456.4V460.6" stroke="#701818" stroke-width="1"/>
<rect x="1133.8" y="457.9" width="2.3" height="2.1" fill="#e2605a" stroke="#701818" stroke-width="0.6"/>
<path d="M1139.0 459.0V470.3" stroke="#701818" stroke-width="1"/>
<rect x="1137.8" y="460.0" width="2.3" height="8.3" fill="#e2605a" stroke="#701818" stroke-width="0.6"/>
<path d="M1141.7 446.7V468.3" stroke="#0f6b3e" stroke-width="1"/>
<rect x="1140.5" y="451.7" width="2.3" height="16.7" fill="#1fa866" stroke="#0f6b3e" stroke-width="0.6"/>
<path d="M1145.0 439.7V452.7" stroke="#0f6b3e" stroke-width="1"/>
<rect x="1143.8" y="441.7" width="2.3" height="10.0" fill="#1fa866" stroke="#0f6b3e" stroke-width="0.6"/>
<path d="M1149.0 437.9V448.0" stroke="#701818" stroke-width="1"/>
<rect x="1147.8" y="440.4" width="2.3" height="2.6" fill="#e2605a" stroke="#701818" stroke-width="0.6"/>
<path d="M1152.3 429.0V435.0" stroke="#701818" stroke-width="1"/>
<rect x="1151.2" y="430.0" width="2.3" height="5.0" fill="#e2605a" stroke="#701818" stroke-width="0.6"/>
<path d="M1155.7 418.3V436.3" stroke="#0f6b3e" stroke-width="1"/>
<rect x="1154.5" y="425.0" width="2.3" height="8.3" fill="#1fa866" stroke="#0f6b3e" stroke-width="0.6"/>
<path d="M1159.0 422.0V446.7" stroke="#0f6b3e" stroke-width="1"/>
<rect x="1157.8" y="425.0" width="2.3" height="16.7" fill="#1fa866" stroke="#0f6b3e" stroke-width="0.6"/>
<path d="M1162.3 424.0V443.0" stroke="#0f6b3e" stroke-width="1"/>
<rect x="1161.2" y="425.0" width="2.3" height="15.0" fill="#1fa866" stroke="#0f6b3e" stroke-width="0.6"/>
<path d="M1166.7 421.2V426.8" stroke="#701818" stroke-width="1"/>
<rect x="1165.5" y="423.7" width="2.3" height="2.6" fill="#e2605a" stroke="#701818" stroke-width="0.6"/>
<path d="M1169.3 405.0V487.0" stroke="#701818" stroke-width="1"/>
<rect x="1168.2" y="426.7" width="2.3" height="58.3" fill="#e2605a" stroke="#701818" stroke-width="0.6"/>
<path d="M1173.3 480.0V516.7" stroke="#701818" stroke-width="1"/>
<rect x="1172.2" y="485.0" width="2.3" height="23.3" fill="#e2605a" stroke="#701818" stroke-width="0.6"/>
<path d="M1176.7 503.9V516.0" stroke="#701818" stroke-width="1"/>
<rect x="1175.5" y="508.9" width="2.3" height="2.1" fill="#e2605a" stroke="#701818" stroke-width="0.6"/>
<path d="M1180.7 444.0V473.3" stroke="#0f6b3e" stroke-width="1"/>
<rect x="1179.5" y="445.0" width="2.3" height="28.3" fill="#1fa866" stroke="#0f6b3e" stroke-width="0.6"/>
<path d="M1184.0 425.0V446.0" stroke="#0f6b3e" stroke-width="1"/>
<rect x="1182.8" y="431.7" width="2.3" height="13.3" fill="#1fa866" stroke="#0f6b3e" stroke-width="0.6"/>
<path d="M1187.7 427.6V437.7" stroke="#701818" stroke-width="1"/>
<rect x="1186.5" y="431.1" width="2.3" height="3.1" fill="#e2605a" stroke="#701818" stroke-width="0.6"/>
<path d="M1191.0 429.7V443.3" stroke="#0f6b3e" stroke-width="1"/>
<rect x="1189.8" y="432.7" width="2.3" height="1.0" fill="#1fa866" stroke="#0f6b3e" stroke-width="0.6"/>
<path d="M1194.3 423.3V432.7" stroke="#0f6b3e" stroke-width="1"/>
<rect x="1193.2" y="423.3" width="2.3" height="8.3" fill="#1fa866" stroke="#0f6b3e" stroke-width="0.6"/>
<path d="M1197.7 408.3V426.3" stroke="#0f6b3e" stroke-width="1"/>
<rect x="1196.5" y="408.3" width="2.3" height="15.0" fill="#1fa866" stroke="#0f6b3e" stroke-width="0.6"/>
<path d="M1201.0 407.0V418.3" stroke="#701818" stroke-width="1"/>
<rect x="1199.8" y="410.0" width="2.3" height="3.3" fill="#e2605a" stroke="#701818" stroke-width="0.6"/>
<path d="M1205.0 411.3V415.4" stroke="#701818" stroke-width="1"/>
<rect x="1203.8" y="411.8" width="2.3" height="3.1" fill="#e2605a" stroke="#701818" stroke-width="0.6"/>
<path d="M1208.3 388.7V410.0" stroke="#0f6b3e" stroke-width="1"/>
<rect x="1207.2" y="391.7" width="2.3" height="13.3" fill="#1fa866" stroke="#0f6b3e" stroke-width="0.6"/>
<path d="M1211.7 386.6V394.7" stroke="#701818" stroke-width="1"/>
<rect x="1210.5" y="390.1" width="2.3" height="3.1" fill="#e2605a" stroke="#701818" stroke-width="0.6"/>
<path d="M1215.7 395.0V420.0" stroke="#701818" stroke-width="1"/>
<rect x="1214.5" y="395.0" width="2.3" height="16.7" fill="#e2605a" stroke="#701818" stroke-width="0.6"/>
<path d="M1219.0 395.7V411.0" stroke="#701818" stroke-width="1"/>
<rect x="1217.8" y="396.7" width="2.3" height="13.3" fill="#e2605a" stroke="#701818" stroke-width="0.6"/>
<path d="M1222.3 393.3V403.3" stroke="#0f6b3e" stroke-width="1"/>
<rect x="1221.2" y="398.3" width="2.3" height="5.0" fill="#1fa866" stroke="#0f6b3e" stroke-width="0.6"/>
<path d="M1225.7 395.3V401.7" stroke="#701818" stroke-width="1"/>
<rect x="1224.5" y="398.3" width="2.3" height="3.3" fill="#e2605a" stroke="#701818" stroke-width="0.6"/>
<path d="M1229.0 386.7V398.3" stroke="#0f6b3e" stroke-width="1"/>
<rect x="1227.8" y="391.7" width="2.3" height="6.7" fill="#1fa866" stroke="#0f6b3e" stroke-width="0.6"/>
<path d="M1232.7 389.4V394.0" stroke="#701818" stroke-width="1"/>
<rect x="1231.5" y="390.9" width="2.3" height="1.6" fill="#e2605a" stroke="#701818" stroke-width="0.6"/>
<path d="M1236.7 361.7V378.3" stroke="#701818" stroke-width="1"/>
<rect x="1235.5" y="371.7" width="2.3" height="6.7" fill="#e2605a" stroke="#701818" stroke-width="0.6"/>
<path d="M1240.0 374.7V388.3" stroke="#701818" stroke-width="1"/>
<rect x="1238.8" y="376.7" width="2.3" height="3.3" fill="#e2605a" stroke="#701818" stroke-width="0.6"/>
<path d="M1243.3 349.7V380.0" stroke="#0f6b3e" stroke-width="1"/>
<rect x="1242.2" y="351.7" width="2.3" height="23.3" fill="#1fa866" stroke="#0f6b3e" stroke-width="0.6"/>
<path d="M1246.7 348.7V363.3" stroke="#701818" stroke-width="1"/>
<rect x="1245.5" y="351.7" width="2.3" height="11.7" fill="#e2605a" stroke="#701818" stroke-width="0.6"/>
<path d="M1250.0 360.4V365.0" stroke="#0f6b3e" stroke-width="1"/>
<rect x="1248.8" y="360.9" width="2.3" height="1.6" fill="#1fa866" stroke="#0f6b3e" stroke-width="0.6"/>
<path d="M1253.3 358.8V366.9" stroke="#701818" stroke-width="1"/>
<rect x="1252.2" y="362.3" width="2.3" height="2.1" fill="#e2605a" stroke="#701818" stroke-width="0.6"/>
<path d="M1256.7 357.3V364.9" stroke="#701818" stroke-width="1"/>
<rect x="1255.5" y="362.3" width="2.3" height="2.1" fill="#e2605a" stroke="#701818" stroke-width="0.6"/>
<path d="M1260.7 356.9V366.0" stroke="#0f6b3e" stroke-width="1"/>
<rect x="1259.5" y="361.9" width="2.3" height="1.6" fill="#1fa866" stroke="#0f6b3e" stroke-width="0.6"/>
<path d="M1264.3 337.6V345.7" stroke="#0f6b3e" stroke-width="1"/>
<rect x="1263.2" y="340.1" width="2.3" height="3.1" fill="#1fa866" stroke="#0f6b3e" stroke-width="0.6"/>
<path d="M1268.3 327.3V343.0" stroke="#0f6b3e" stroke-width="1"/>
<rect x="1267.2" y="328.3" width="2.3" height="11.7" fill="#1fa866" stroke="#0f6b3e" stroke-width="0.6"/>
<path d="M1271.7 310.0V327.7" stroke="#0f6b3e" stroke-width="1"/>
<rect x="1270.5" y="315.0" width="2.3" height="11.7" fill="#1fa866" stroke="#0f6b3e" stroke-width="0.6"/>
<path d="M1274.3 303.3V319.3" stroke="#0f6b3e" stroke-width="1"/>
<rect x="1273.2" y="308.3" width="2.3" height="10.0" fill="#1fa866" stroke="#0f6b3e" stroke-width="0.6"/>
<path d="M1278.3 296.7V311.3" stroke="#0f6b3e" stroke-width="1"/>
<rect x="1277.2" y="303.3" width="2.3" height="5.0" fill="#1fa866" stroke="#0f6b3e" stroke-width="0.6"/>
<path d="M1281.7 304.2V307.8" stroke="#701818" stroke-width="1"/>
<rect x="1280.5" y="304.7" width="2.3" height="2.6" fill="#e2605a" stroke="#701818" stroke-width="0.6"/>
<path d="M1285.0 305.7V319.7" stroke="#701818" stroke-width="1"/>
<rect x="1283.8" y="306.7" width="2.3" height="10.0" fill="#e2605a" stroke="#701818" stroke-width="0.6"/>
<path d="M1289.0 317.9V324.1" stroke="#701818" stroke-width="1"/>
<rect x="1287.8" y="318.4" width="2.3" height="3.1" fill="#e2605a" stroke="#701818" stroke-width="0.6"/>
<path d="M1293.3 327.1V335.2" stroke="#701818" stroke-width="1"/>
<rect x="1292.2" y="330.6" width="2.3" height="2.1" fill="#e2605a" stroke="#701818" stroke-width="0.6"/>
<path d="M1296.7 327.8V333.9" stroke="#701818" stroke-width="1"/>
<rect x="1295.5" y="331.3" width="2.3" height="2.1" fill="#e2605a" stroke="#701818" stroke-width="0.6"/>
<path d="M1300.0 328.5V337.1" stroke="#701818" stroke-width="1"/>
<rect x="1298.8" y="332.0" width="2.3" height="2.6" fill="#e2605a" stroke="#701818" stroke-width="0.6"/>
<path d="M1303.3 330.9V336.1" stroke="#701818" stroke-width="1"/>
<rect x="1302.2" y="332.4" width="2.3" height="3.1" fill="#e2605a" stroke="#701818" stroke-width="0.6"/>
<path d="M1306.0 333.0V350.0" stroke="#701818" stroke-width="1"/>
<rect x="1304.8" y="335.0" width="2.3" height="10.0" fill="#e2605a" stroke="#701818" stroke-width="0.6"/>
<path d="M1310.0 345.0V360.0" stroke="#701818" stroke-width="1"/>
<rect x="1308.8" y="345.0" width="2.3" height="6.7" fill="#e2605a" stroke="#701818" stroke-width="0.6"/>
<path d="M1313.3 342.0V352.7" stroke="#0f6b3e" stroke-width="1"/>
<rect x="1312.2" y="345.0" width="2.3" height="6.7" fill="#1fa866" stroke="#0f6b3e" stroke-width="0.6"/>
<path d="M1316.7 338.9V344.5" stroke="#0f6b3e" stroke-width="1"/>
<rect x="1315.5" y="340.4" width="2.3" height="2.6" fill="#1fa866" stroke="#0f6b3e" stroke-width="0.6"/>
<path d="M1320.7 323.3V339.3" stroke="#0f6b3e" stroke-width="1"/>
<rect x="1319.5" y="328.3" width="2.3" height="10.0" fill="#1fa866" stroke="#0f6b3e" stroke-width="0.6"/>
<path d="M1324.3 326.3V345.3" stroke="#701818" stroke-width="1"/>
<rect x="1323.2" y="328.3" width="2.3" height="15.0" fill="#e2605a" stroke="#701818" stroke-width="0.6"/>
<path d="M1327.3 343.3V381.7" stroke="#701818" stroke-width="1"/>
<rect x="1326.2" y="343.3" width="2.3" height="33.3" fill="#e2605a" stroke="#701818" stroke-width="0.6"/>
<path d="M1330.7 368.7V385.0" stroke="#0f6b3e" stroke-width="1"/>
<rect x="1329.5" y="371.7" width="2.3" height="6.7" fill="#1fa866" stroke="#0f6b3e" stroke-width="0.6"/>
<path d="M1334.3 368.4V375.6" stroke="#0f6b3e" stroke-width="1"/>
<rect x="1333.2" y="369.9" width="2.3" height="2.1" fill="#1fa866" stroke="#0f6b3e" stroke-width="0.6"/>
<path d="M1337.7 368.9V377.6" stroke="#701818" stroke-width="1"/>
<rect x="1336.5" y="369.4" width="2.3" height="3.1" fill="#e2605a" stroke="#701818" stroke-width="0.6"/>
<path d="M1341.0 358.3V379.7" stroke="#701818" stroke-width="1"/>
<rect x="1339.8" y="370.0" width="2.3" height="6.7" fill="#e2605a" stroke="#701818" stroke-width="0.6"/>
<path d="M1345.0 373.7V377.3" stroke="#0f6b3e" stroke-width="1"/>
<rect x="1343.8" y="375.2" width="2.3" height="1.6" fill="#1fa866" stroke="#0f6b3e" stroke-width="0.6"/>
<path d="M1349.0 405.0V434.3" stroke="#0f6b3e" stroke-width="1"/>
<rect x="1347.8" y="410.0" width="2.3" height="23.3" fill="#1fa866" stroke="#0f6b3e" stroke-width="0.6"/>
<path d="M1352.3 407.0V415.0" stroke="#701818" stroke-width="1"/>
<rect x="1351.2" y="410.0" width="2.3" height="5.0" fill="#e2605a" stroke="#701818" stroke-width="0.6"/>
<path d="M1355.7 396.7V411.0" stroke="#0f6b3e" stroke-width="1"/>
<rect x="1354.5" y="396.7" width="2.3" height="13.3" fill="#1fa866" stroke="#0f6b3e" stroke-width="0.6"/>
<path d="M1359.0 390.3V404.7" stroke="#0f6b3e" stroke-width="1"/>
<rect x="1357.8" y="393.3" width="2.3" height="8.3" fill="#1fa866" stroke="#0f6b3e" stroke-width="0.6"/>
<path d="M1362.3 384.7V393.3" stroke="#0f6b3e" stroke-width="1"/>
<rect x="1361.2" y="386.7" width="2.3" height="6.7" fill="#1fa866" stroke="#0f6b3e" stroke-width="0.6"/>
<path d="M1365.7 381.7V387.3" stroke="#0f6b3e" stroke-width="1"/>
<rect x="1364.5" y="383.2" width="2.3" height="1.6" fill="#1fa866" stroke="#0f6b3e" stroke-width="0.6"/>
<path d="M1369.0 378.4V387.1" stroke="#0f6b3e" stroke-width="1"/>
<rect x="1367.8" y="379.9" width="2.3" height="2.1" fill="#1fa866" stroke="#0f6b3e" stroke-width="0.6"/>
<path d="M1372.3 377.3V383.4" stroke="#0f6b3e" stroke-width="1"/>
<rect x="1371.2" y="377.8" width="2.3" height="3.1" fill="#1fa866" stroke="#0f6b3e" stroke-width="0.6"/>
<path d="M1376.7 338.7V368.7" stroke="#0f6b3e" stroke-width="1"/>
<rect x="1375.5" y="341.7" width="2.3" height="25.0" fill="#1fa866" stroke="#0f6b3e" stroke-width="0.6"/>
<path d="M1380.0 316.7V343.0" stroke="#0f6b3e" stroke-width="1"/>
<rect x="1378.8" y="330.0" width="2.3" height="10.0" fill="#1fa866" stroke="#0f6b3e" stroke-width="0.6"/>
<path d="M1384.0 331.1V334.2" stroke="#701818" stroke-width="1"/>
<rect x="1382.8" y="331.6" width="2.3" height="2.1" fill="#e2605a" stroke="#701818" stroke-width="0.6"/>
<path d="M1387.3 333.3V342.0" stroke="#701818" stroke-width="1"/>
<rect x="1386.2" y="333.3" width="2.3" height="6.7" fill="#e2605a" stroke="#701818" stroke-width="0.6"/>
<path d="M1390.7 331.7V339.3" stroke="#0f6b3e" stroke-width="1"/>
<rect x="1389.5" y="334.2" width="2.3" height="1.6" fill="#1fa866" stroke="#0f6b3e" stroke-width="0.6"/>
<path d="M1394.0 328.3V341.7" stroke="#0f6b3e" stroke-width="1"/>
<rect x="1392.8" y="328.3" width="2.3" height="8.3" fill="#1fa866" stroke="#0f6b3e" stroke-width="0.6"/>
<path d="M1397.3 327.3V361.3" stroke="#701818" stroke-width="1"/>
<rect x="1396.2" y="328.3" width="2.3" height="30.0" fill="#e2605a" stroke="#701818" stroke-width="0.6"/>
<path d="M1401.7 356.2V364.8" stroke="#701818" stroke-width="1"/>
<rect x="1400.5" y="358.7" width="2.3" height="2.6" fill="#e2605a" stroke="#701818" stroke-width="0.6"/>
<path d="M1405.0 351.7V355.0" stroke="#0f6b3e" stroke-width="1"/>
<rect x="1403.8" y="351.7" width="2.3" height="3.3" fill="#1fa866" stroke="#0f6b3e" stroke-width="0.6"/>
<path d="M1407.7 348.7V362.7" stroke="#701818" stroke-width="1"/>
<rect x="1406.5" y="351.7" width="2.3" height="10.0" fill="#e2605a" stroke="#701818" stroke-width="0.6"/>
<path d="M1411.7 363.0V376.7" stroke="#701818" stroke-width="1"/>
<rect x="1410.5" y="365.0" width="2.3" height="6.7" fill="#e2605a" stroke="#701818" stroke-width="0.6"/>
<path d="M1415.0 368.6V375.7" stroke="#701818" stroke-width="1"/>
<rect x="1413.8" y="370.1" width="2.3" height="3.1" fill="#e2605a" stroke="#701818" stroke-width="0.6"/>
<path d="M1418.3 369.7V393.0" stroke="#701818" stroke-width="1"/>
<rect x="1417.2" y="371.7" width="2.3" height="18.3" fill="#e2605a" stroke="#701818" stroke-width="0.6"/>
<path d="M1421.7 391.7V431.3" stroke="#701818" stroke-width="1"/>
<rect x="1420.5" y="391.7" width="2.3" height="36.7" fill="#e2605a" stroke="#701818" stroke-width="0.6"/>
<path d="M1425.0 430.7V443.3" stroke="#701818" stroke-width="1"/>
<rect x="1423.8" y="431.7" width="2.3" height="1.0" fill="#e2605a" stroke="#701818" stroke-width="0.6"/>
<path d="M1428.3 427.4V433.0" stroke="#0f6b3e" stroke-width="1"/>
<rect x="1427.2" y="430.9" width="2.3" height="1.6" fill="#1fa866" stroke="#0f6b3e" stroke-width="0.6"/>
<path d="M1431.7 388.7V426.7" stroke="#0f6b3e" stroke-width="1"/>
<rect x="1430.5" y="391.7" width="2.3" height="35.0" fill="#1fa866" stroke="#0f6b3e" stroke-width="0.6"/>
<path d="M1435.7 391.7V403.7" stroke="#701818" stroke-width="1"/>
<rect x="1434.5" y="391.7" width="2.3" height="10.0" fill="#e2605a" stroke="#701818" stroke-width="0.6"/>
<path d="M1439.0 400.7V413.3" stroke="#701818" stroke-width="1"/>
<rect x="1437.8" y="401.7" width="2.3" height="1.0" fill="#e2605a" stroke="#701818" stroke-width="0.6"/>
<path d="M1442.7 381.7V403.7" stroke="#0f6b3e" stroke-width="1"/>
<rect x="1441.5" y="386.7" width="2.3" height="15.0" fill="#1fa866" stroke="#0f6b3e" stroke-width="0.6"/>
<path d="M1446.7 365.0V387.0" stroke="#0f6b3e" stroke-width="1"/>
<rect x="1445.5" y="378.3" width="2.3" height="6.7" fill="#1fa866" stroke="#0f6b3e" stroke-width="0.6"/>
<path d="M1450.0 378.0V395.0" stroke="#701818" stroke-width="1"/>
<rect x="1448.8" y="380.0" width="2.3" height="10.0" fill="#e2605a" stroke="#701818" stroke-width="0.6"/>
<path d="M1453.3 388.3V413.7" stroke="#701818" stroke-width="1"/>
<rect x="1452.2" y="388.3" width="2.3" height="23.3" fill="#e2605a" stroke="#701818" stroke-width="0.6"/>
<path d="M1456.7 406.2V413.8" stroke="#0f6b3e" stroke-width="1"/>
<rect x="1455.5" y="408.7" width="2.3" height="2.6" fill="#1fa866" stroke="#0f6b3e" stroke-width="0.6"/>
<path d="M1460.0 390.0V415.0" stroke="#0f6b3e" stroke-width="1"/>
<rect x="1458.8" y="390.0" width="2.3" height="20.0" fill="#1fa866" stroke="#0f6b3e" stroke-width="0.6"/>
<path d="M1463.3 390.0V410.0" stroke="#701818" stroke-width="1"/>
<rect x="1462.2" y="390.0" width="2.3" height="20.0" fill="#e2605a" stroke="#701818" stroke-width="0.6"/>
<path d="M1467.3 409.0V423.3" stroke="#701818" stroke-width="1"/>
<rect x="1466.2" y="410.0" width="2.3" height="13.3" fill="#e2605a" stroke="#701818" stroke-width="0.6"/>
<path d="M1470.7 420.3V433.0" stroke="#701818" stroke-width="1"/>
<rect x="1469.5" y="423.3" width="2.3" height="6.7" fill="#e2605a" stroke="#701818" stroke-width="0.6"/>
<path d="M1474.3 422.6V431.7" stroke="#0f6b3e" stroke-width="1"/>
<rect x="1473.2" y="425.1" width="2.3" height="3.1" fill="#1fa866" stroke="#0f6b3e" stroke-width="0.6"/>
<path d="M1477.7 400.3V424.3" stroke="#0f6b3e" stroke-width="1"/>
<rect x="1476.5" y="403.3" width="2.3" height="20.0" fill="#1fa866" stroke="#0f6b3e" stroke-width="0.6"/>
<path d="M1481.0 400.3V424.3" stroke="#701818" stroke-width="1"/>
<rect x="1479.8" y="403.3" width="2.3" height="20.0" fill="#e2605a" stroke="#701818" stroke-width="0.6"/>
<path d="M1485.0 426.7V432.3" stroke="#701818" stroke-width="1"/>
<rect x="1483.8" y="429.2" width="2.3" height="1.6" fill="#e2605a" stroke="#701818" stroke-width="0.6"/>
<path d="M1488.3 420.0V434.3" stroke="#0f6b3e" stroke-width="1"/>
<rect x="1487.2" y="425.0" width="2.3" height="8.3" fill="#1fa866" stroke="#0f6b3e" stroke-width="0.6"/>
<path d="M1491.7 423.0V440.3" stroke="#701818" stroke-width="1"/>
<rect x="1490.5" y="425.0" width="2.3" height="13.3" fill="#e2605a" stroke="#701818" stroke-width="0.6"/>
<path d="M1495.0 432.6V443.2" stroke="#0f6b3e" stroke-width="1"/>
<rect x="1493.8" y="435.1" width="2.3" height="3.1" fill="#1fa866" stroke="#0f6b3e" stroke-width="0.6"/>
<path d="M1498.3 423.3V443.3" stroke="#0f6b3e" stroke-width="1"/>
<rect x="1497.2" y="423.3" width="2.3" height="15.0" fill="#1fa866" stroke="#0f6b3e" stroke-width="0.6"/>
<path d="M1502.3 404.0V426.3" stroke="#0f6b3e" stroke-width="1"/>
<rect x="1501.2" y="405.0" width="2.3" height="18.3" fill="#1fa866" stroke="#0f6b3e" stroke-width="0.6"/>
<path d="M1506.7 391.7V405.0" stroke="#0f6b3e" stroke-width="1"/>
<rect x="1505.5" y="400.0" width="2.3" height="4.0" fill="#1fa866" stroke="#0f6b3e" stroke-width="0.6"/>
<path d="M1510.0 399.6V403.7" stroke="#701818" stroke-width="1"/>
<rect x="1508.8" y="400.1" width="2.3" height="3.1" fill="#e2605a" stroke="#701818" stroke-width="0.6"/>
<path d="M1513.3 395.1V408.2" stroke="#701818" stroke-width="1"/>
<rect x="1512.2" y="400.1" width="2.3" height="3.1" fill="#e2605a" stroke="#701818" stroke-width="0.6"/>
<path d="M1516.7 390.0V399.3" stroke="#701818" stroke-width="1"/>
<rect x="1515.5" y="395.0" width="2.3" height="3.3" fill="#e2605a" stroke="#701818" stroke-width="0.6"/>
<path d="M1520.0 393.7V411.7" stroke="#701818" stroke-width="1"/>
<rect x="1518.8" y="396.7" width="2.3" height="15.0" fill="#e2605a" stroke="#701818" stroke-width="0.6"/>
<path d="M1523.3 406.7V423.7" stroke="#701818" stroke-width="1"/>
<rect x="1522.2" y="406.7" width="2.3" height="15.0" fill="#e2605a" stroke="#701818" stroke-width="0.6"/>
<path d="M1526.7 415.0V438.3" stroke="#701818" stroke-width="1"/>
<rect x="1525.5" y="420.0" width="2.3" height="18.3" fill="#e2605a" stroke="#701818" stroke-width="0.6"/>
<path d="M1530.0 419.0V436.7" stroke="#0f6b3e" stroke-width="1"/>
<rect x="1528.8" y="420.0" width="2.3" height="16.7" fill="#1fa866" stroke="#0f6b3e" stroke-width="0.6"/>
<path d="M1534.0 408.7V424.7" stroke="#0f6b3e" stroke-width="1"/>
<rect x="1532.8" y="411.7" width="2.3" height="10.0" fill="#1fa866" stroke="#0f6b3e" stroke-width="0.6"/>
<path d="M1537.3 405.3V411.4" stroke="#0f6b3e" stroke-width="1"/>
<rect x="1536.2" y="406.8" width="2.3" height="3.1" fill="#1fa866" stroke="#0f6b3e" stroke-width="0.6"/>
<path d="M1541.0 403.1V412.2" stroke="#0f6b3e" stroke-width="1"/>
<rect x="1539.8" y="406.6" width="2.3" height="2.1" fill="#1fa866" stroke="#0f6b3e" stroke-width="0.6"/>
<path d="M1544.0 448.3V477.7" stroke="#701818" stroke-width="1"/>
<rect x="1542.8" y="453.3" width="2.3" height="23.3" fill="#e2605a" stroke="#701818" stroke-width="0.6"/>
<path d="M1546.7 465.0V496.7" stroke="#701818" stroke-width="1"/>
<rect x="1545.5" y="470.0" width="2.3" height="26.7" fill="#e2605a" stroke="#701818" stroke-width="0.6"/>
<path d="M1549.0 494.7V518.7" stroke="#701818" stroke-width="1"/>
<rect x="1547.8" y="496.7" width="2.3" height="20.0" fill="#e2605a" stroke="#701818" stroke-width="0.6"/>
<path d="M1551.7 514.7V543.3" stroke="#701818" stroke-width="1"/>
<rect x="1550.5" y="516.7" width="2.3" height="21.7" fill="#e2605a" stroke="#701818" stroke-width="0.6"/>
<path d="M1554.3 536.3V560.0" stroke="#701818" stroke-width="1"/>
<rect x="1553.2" y="538.3" width="2.3" height="18.3" fill="#e2605a" stroke="#701818" stroke-width="0.6"/>
<path d="M1558.3 554.0V580.0" stroke="#0f6b3e" stroke-width="1"/>
<rect x="1557.2" y="556.0" width="2.3" height="1.3" fill="#1fa866" stroke="#0f6b3e" stroke-width="0.6"/>
<path d="M1561.7 542.3V556.3" stroke="#0f6b3e" stroke-width="1"/>
<rect x="1560.5" y="543.3" width="2.3" height="10.0" fill="#1fa866" stroke="#0f6b3e" stroke-width="0.6"/>
<path d="M1565.0 524.0V544.3" stroke="#0f6b3e" stroke-width="1"/>
<rect x="1563.8" y="525.0" width="2.3" height="18.3" fill="#1fa866" stroke="#0f6b3e" stroke-width="0.6"/>
</g>
<polygon points="90.0,656.7 463.0,137.0 444.0,122.6 534.0,83.0 525.0,180.5 504.0,167.0 130.0,684.0" fill="rgba(0,128,0,0.24)"/>
<polygon points="484.0,80.0 791.0,747.6 769.8,757.6 848.0,813.0 859.0,717.0 837.0,724.5 529.0,59.0" fill="rgba(255,0,0,0.25)"/>
<polygon points="828.0,796.6 1238.5,259.4 1219.8,245.0 1311.0,208.0 1299.4,304.0 1278.0,291.0 866.8,826.5" fill="rgba(0,128,0,0.24)"/>
<polygon points="1275.8,229.5 1489.5,535.5 1469.0,548.7 1559.0,589.0 1551.6,489.5 1529.0,504.4 1314.0,200.4" fill="rgba(255,0,0,0.25)"/>
<line x1="865.8" y1="606.2" x2="1369.3" y2="150.5" stroke="rgba(0,0,0,0.25)" stroke-width="15"/>
<line x1="901" y1="805.9" x2="1521.5" y2="298" stroke="rgba(0,0,0,0.25)" stroke-width="14.6"/>
<rect x="1816.5" y="0" width="39" height="868" fill="#fff"/>
<line x1="1816.5" y1="0" x2="1816.5" y2="867.5" stroke="#6a6a6a" stroke-width="1.2"/>
<line x1="3" y1="867.4" x2="1817" y2="867.4" stroke="#6a6a6a" stroke-width="1.2"/>
<line x1="1817" y1="6.1" x2="1819" y2="6.1" stroke="#6a6a6a" stroke-width="1"/>
<text x="1821.3" y="10.3" font-size="9.2px" fill="#5a5a5a" textLength="29" lengthAdjust="spacingAndGlyphs">12.00%</text>
<line x1="1817" y1="30.6" x2="1819" y2="30.6" stroke="#6a6a6a" stroke-width="1"/>
<text x="1821.3" y="34.8" font-size="9.2px" fill="#5a5a5a" textLength="29" lengthAdjust="spacingAndGlyphs">11.50%</text>
<line x1="1817" y1="55.1" x2="1819" y2="55.1" stroke="#6a6a6a" stroke-width="1"/>
<text x="1821.3" y="59.3" font-size="9.2px" fill="#5a5a5a" textLength="29" lengthAdjust="spacingAndGlyphs">11.00%</text>
<line x1="1817" y1="79.6" x2="1819" y2="79.6" stroke="#6a6a6a" stroke-width="1"/>
<text x="1821.3" y="83.8" font-size="9.2px" fill="#5a5a5a" textLength="29" lengthAdjust="spacingAndGlyphs">10.50%</text>
<line x1="1817" y1="104.1" x2="1819" y2="104.1" stroke="#6a6a6a" stroke-width="1"/>
<text x="1821.3" y="108.3" font-size="9.2px" fill="#5a5a5a" textLength="29" lengthAdjust="spacingAndGlyphs">10.00%</text>
<line x1="1817" y1="128.6" x2="1819" y2="128.6" stroke="#6a6a6a" stroke-width="1"/>
<text x="1821.3" y="132.8" font-size="9.2px" fill="#5a5a5a" textLength="25" lengthAdjust="spacingAndGlyphs">9.50%</text>
<line x1="1817" y1="153.1" x2="1819" y2="153.1" stroke="#6a6a6a" stroke-width="1"/>
<text x="1821.3" y="157.3" font-size="9.2px" fill="#5a5a5a" textLength="25" lengthAdjust="spacingAndGlyphs">9.00%</text>
<line x1="1817" y1="177.6" x2="1819" y2="177.6" stroke="#6a6a6a" stroke-width="1"/>
<text x="1821.3" y="181.8" font-size="9.2px" fill="#5a5a5a" textLength="25" lengthAdjust="spacingAndGlyphs">8.50%</text>
<line x1="1817" y1="202.1" x2="1819" y2="202.1" stroke="#6a6a6a" stroke-width="1"/>
<text x="1821.3" y="206.3" font-size="9.2px" fill="#5a5a5a" textLength="25" lengthAdjust="spacingAndGlyphs">8.00%</text>
<line x1="1817" y1="226.6" x2="1819" y2="226.6" stroke="#6a6a6a" stroke-width="1"/>
<text x="1821.3" y="230.8" font-size="9.2px" fill="#5a5a5a" textLength="25" lengthAdjust="spacingAndGlyphs">7.50%</text>
<line x1="1817" y1="251.1" x2="1819" y2="251.1" stroke="#6a6a6a" stroke-width="1"/>
<text x="1821.3" y="255.3" font-size="9.2px" fill="#5a5a5a" textLength="25" lengthAdjust="spacingAndGlyphs">7.00%</text>
<line x1="1817" y1="275.6" x2="1819" y2="275.6" stroke="#6a6a6a" stroke-width="1"/>
<text x="1821.3" y="279.8" font-size="9.2px" fill="#5a5a5a" textLength="25" lengthAdjust="spacingAndGlyphs">6.50%</text>
<line x1="1817" y1="300.1" x2="1819" y2="300.1" stroke="#6a6a6a" stroke-width="1"/>
<text x="1821.3" y="304.3" font-size="9.2px" fill="#5a5a5a" textLength="25" lengthAdjust="spacingAndGlyphs">6.00%</text>
<line x1="1817" y1="324.6" x2="1819" y2="324.6" stroke="#6a6a6a" stroke-width="1"/>
<text x="1821.3" y="328.8" font-size="9.2px" fill="#5a5a5a" textLength="25" lengthAdjust="spacingAndGlyphs">5.50%</text>
<line x1="1817" y1="349.1" x2="1819" y2="349.1" stroke="#6a6a6a" stroke-width="1"/>
<text x="1821.3" y="353.3" font-size="9.2px" fill="#5a5a5a" textLength="25" lengthAdjust="spacingAndGlyphs">5.00%</text>
<line x1="1817" y1="373.6" x2="1819" y2="373.6" stroke="#6a6a6a" stroke-width="1"/>
<text x="1821.3" y="377.8" font-size="9.2px" fill="#5a5a5a" textLength="25" lengthAdjust="spacingAndGlyphs">4.50%</text>
<line x1="1817" y1="398.1" x2="1819" y2="398.1" stroke="#6a6a6a" stroke-width="1"/>
<text x="1821.3" y="402.3" font-size="9.2px" fill="#5a5a5a" textLength="25" lengthAdjust="spacingAndGlyphs">4.00%</text>
<line x1="1817" y1="422.6" x2="1819" y2="422.6" stroke="#6a6a6a" stroke-width="1"/>
<text x="1821.3" y="426.8" font-size="9.2px" fill="#5a5a5a" textLength="25" lengthAdjust="spacingAndGlyphs">3.50%</text>
<line x1="1817" y1="447.1" x2="1819" y2="447.1" stroke="#6a6a6a" stroke-width="1"/>
<text x="1821.3" y="451.3" font-size="9.2px" fill="#5a5a5a" textLength="25" lengthAdjust="spacingAndGlyphs">3.00%</text>
<line x1="1817" y1="471.6" x2="1819" y2="471.6" stroke="#6a6a6a" stroke-width="1"/>
<text x="1821.3" y="475.8" font-size="9.2px" fill="#5a5a5a" textLength="25" lengthAdjust="spacingAndGlyphs">2.50%</text>
<line x1="1817" y1="496.1" x2="1819" y2="496.1" stroke="#6a6a6a" stroke-width="1"/>
<text x="1821.3" y="500.3" font-size="9.2px" fill="#5a5a5a" textLength="25" lengthAdjust="spacingAndGlyphs">2.00%</text>
<line x1="1817" y1="520.6" x2="1819" y2="520.6" stroke="#6a6a6a" stroke-width="1"/>
<text x="1821.3" y="524.8" font-size="9.2px" fill="#5a5a5a" textLength="25" lengthAdjust="spacingAndGlyphs">1.50%</text>
<line x1="1817" y1="545.1" x2="1819" y2="545.1" stroke="#6a6a6a" stroke-width="1"/>
<text x="1821.3" y="549.3" font-size="9.2px" fill="#5a5a5a" textLength="25" lengthAdjust="spacingAndGlyphs">1.00%</text>
<line x1="1817" y1="569.6" x2="1819" y2="569.6" stroke="#6a6a6a" stroke-width="1"/>
<text x="1821.3" y="573.8" font-size="9.2px" fill="#5a5a5a" textLength="25" lengthAdjust="spacingAndGlyphs">0.50%</text>
<line x1="1817" y1="594.1" x2="1819" y2="594.1" stroke="#6a6a6a" stroke-width="1"/>
<text x="1821.3" y="598.3" font-size="9.2px" fill="#5a5a5a" textLength="25" lengthAdjust="spacingAndGlyphs">0.00%</text>
<line x1="1817" y1="618.6" x2="1819" y2="618.6" stroke="#6a6a6a" stroke-width="1"/>
<text x="1821.3" y="622.8" font-size="9.2px" fill="#5a5a5a" textLength="28" lengthAdjust="spacingAndGlyphs">-0.50%</text>
<line x1="1817" y1="643.1" x2="1819" y2="643.1" stroke="#6a6a6a" stroke-width="1"/>
<text x="1821.3" y="647.3" font-size="9.2px" fill="#5a5a5a" textLength="28" lengthAdjust="spacingAndGlyphs">-1.00%</text>
<line x1="1817" y1="667.6" x2="1819" y2="667.6" stroke="#6a6a6a" stroke-width="1"/>
<text x="1821.3" y="671.8" font-size="9.2px" fill="#5a5a5a" textLength="28" lengthAdjust="spacingAndGlyphs">-1.50%</text>
<line x1="1817" y1="692.1" x2="1819" y2="692.1" stroke="#6a6a6a" stroke-width="1"/>
<text x="1821.3" y="696.3" font-size="9.2px" fill="#5a5a5a" textLength="28" lengthAdjust="spacingAndGlyphs">-2.00%</text>
<line x1="1817" y1="716.6" x2="1819" y2="716.6" stroke="#6a6a6a" stroke-width="1"/>
<text x="1821.3" y="720.8" font-size="9.2px" fill="#5a5a5a" textLength="28" lengthAdjust="spacingAndGlyphs">-2.50%</text>
<line x1="1817" y1="741.1" x2="1819" y2="741.1" stroke="#6a6a6a" stroke-width="1"/>
<text x="1821.3" y="745.3" font-size="9.2px" fill="#5a5a5a" textLength="28" lengthAdjust="spacingAndGlyphs">-3.00%</text>
<line x1="1817" y1="765.6" x2="1819" y2="765.6" stroke="#6a6a6a" stroke-width="1"/>
<text x="1821.3" y="769.8" font-size="9.2px" fill="#5a5a5a" textLength="28" lengthAdjust="spacingAndGlyphs">-3.50%</text>
<line x1="1817" y1="790.1" x2="1819" y2="790.1" stroke="#6a6a6a" stroke-width="1"/>
<text x="1821.3" y="794.3" font-size="9.2px" fill="#5a5a5a" textLength="28" lengthAdjust="spacingAndGlyphs">-4.00%</text>
<line x1="1817" y1="814.6" x2="1819" y2="814.6" stroke="#6a6a6a" stroke-width="1"/>
<text x="1821.3" y="818.8" font-size="9.2px" fill="#5a5a5a" textLength="28" lengthAdjust="spacingAndGlyphs">-4.50%</text>
<line x1="1817" y1="839.1" x2="1819" y2="839.1" stroke="#6a6a6a" stroke-width="1"/>
<text x="1821.3" y="843.3" font-size="9.2px" fill="#5a5a5a" textLength="28" lengthAdjust="spacingAndGlyphs">-5.00%</text>
<line x1="1817" y1="863.6" x2="1819" y2="863.6" stroke="#6a6a6a" stroke-width="1"/>
<text x="1821.3" y="867.8" font-size="9.2px" fill="#5a5a5a" textLength="28" lengthAdjust="spacingAndGlyphs">-5.50%</text>
<rect x="1817.2" y="868" width="37.5" height="13.7" fill="#fff"/>
<rect x="1816.3" y="481" width="34" height="12.699999999999989" fill="#00f000"/>
<line x1="1817" y1="487.65000000000003" x2="1819.5" y2="487.65000000000003" stroke="#000" stroke-width="1"/>
<text x="1821.7" y="490.95000000000005" font-size="9.4px" font-weight="bold" textLength="24.3" lengthAdjust="spacingAndGlyphs" fill="#000">2.19%</text>
<rect x="1816.3" y="506.8" width="34" height="13.199999999999989" fill="#ff0000"/>
<line x1="1817" y1="513.6999999999999" x2="1819.5" y2="513.6999999999999" stroke="#fff" stroke-width="1"/>
<text x="1821.7" y="517.0" font-size="9.4px" font-weight="bold" textLength="24.3" lengthAdjust="spacingAndGlyphs" fill="#fff">1.66%</text>
<rect x="1816.3" y="520" width="34" height="12" fill="#4169e1"/>
<line x1="1817" y1="526.3" x2="1819.5" y2="526.3" stroke="#fff" stroke-width="1"/>
<text x="1821.7" y="529.6" font-size="9.4px" font-weight="bold" textLength="24.3" lengthAdjust="spacingAndGlyphs" fill="#fff">1.41%</text>
<line x1="62.2" y1="867.5" x2="62.2" y2="870.5" stroke="#6a6a6a" stroke-width="1"/>
<text class="ax" transform="translate(62.2,879.4) scale(0.86,1)" text-anchor="middle">11</text>
<line x1="146" y1="867.5" x2="146" y2="870.5" stroke="#6a6a6a" stroke-width="1"/>
<text class="ax" transform="translate(146,879.4) scale(0.86,1)" text-anchor="middle">14</text>
<line x1="229.8" y1="867.5" x2="229.8" y2="870.5" stroke="#6a6a6a" stroke-width="1"/>
<text class="ax" transform="translate(229.8,879.4) scale(0.86,1)" text-anchor="middle">19</text>
<line x1="313.6" y1="867.5" x2="313.6" y2="870.5" stroke="#6a6a6a" stroke-width="1"/>
<text class="ax" transform="translate(313.6,879.4) scale(0.86,1)" text-anchor="middle">24</text>
<line x1="397.4" y1="867.5" x2="397.4" y2="870.5" stroke="#6a6a6a" stroke-width="1"/>
<text class="ax" transform="translate(397.4,879.4) scale(0.86,1)" text-anchor="middle">27</text>
<line x1="481.2" y1="867.5" x2="481.2" y2="870.5" stroke="#6a6a6a" stroke-width="1"/>
<text class="ax tb" transform="translate(481.2,879.4) scale(0.86,1)" text-anchor="middle">Sep</text>
<line x1="565" y1="867.5" x2="565" y2="870.5" stroke="#6a6a6a" stroke-width="1"/>
<text class="ax" transform="translate(565,879.4) scale(0.86,1)" text-anchor="middle">4</text>
<line x1="648.8" y1="867.5" x2="648.8" y2="870.5" stroke="#6a6a6a" stroke-width="1"/>
<text class="ax" transform="translate(648.8,879.4) scale(0.86,1)" text-anchor="middle">10</text>
<line x1="732.6" y1="867.5" x2="732.6" y2="870.5" stroke="#6a6a6a" stroke-width="1"/>
<text class="ax" transform="translate(732.6,879.4) scale(0.86,1)" text-anchor="middle">15</text>
<line x1="816.4" y1="867.5" x2="816.4" y2="870.5" stroke="#6a6a6a" stroke-width="1"/>
<text class="ax" transform="translate(816.4,879.4) scale(0.86,1)" text-anchor="middle">18</text>
<line x1="900.3" y1="867.5" x2="900.3" y2="870.5" stroke="#6a6a6a" stroke-width="1"/>
<text class="ax" transform="translate(900.3,879.4) scale(0.86,1)" text-anchor="middle">23</text>
<line x1="984.2" y1="867.5" x2="984.2" y2="870.5" stroke="#6a6a6a" stroke-width="1"/>
<text class="ax" transform="translate(984.2,879.4) scale(0.86,1)" text-anchor="middle">28</text>
<line x1="1068.4" y1="867.5" x2="1068.4" y2="870.5" stroke="#6a6a6a" stroke-width="1"/>
<text class="ax tb" transform="translate(1068.4,879.4) scale(0.86,1)" text-anchor="middle">Oct</text>
<line x1="1152.6" y1="867.5" x2="1152.6" y2="870.5" stroke="#6a6a6a" stroke-width="1"/>
<text class="ax" transform="translate(1152.6,879.4) scale(0.86,1)" text-anchor="middle">6</text>
<line x1="1236.4" y1="867.5" x2="1236.4" y2="870.5" stroke="#6a6a6a" stroke-width="1"/>
<text class="ax" transform="translate(1236.4,879.4) scale(0.86,1)" text-anchor="middle">9</text>
<line x1="1320.4" y1="867.5" x2="1320.4" y2="870.5" stroke="#6a6a6a" stroke-width="1"/>
<text class="ax" transform="translate(1320.4,879.4) scale(0.86,1)" text-anchor="middle">14</text>
<line x1="1404.4" y1="867.5" x2="1404.4" y2="870.5" stroke="#6a6a6a" stroke-width="1"/>
<text class="ax" transform="translate(1404.4,879.4) scale(0.86,1)" text-anchor="middle">19</text>
<line x1="1488.3" y1="867.5" x2="1488.3" y2="870.5" stroke="#6a6a6a" stroke-width="1"/>
<text class="ax" transform="translate(1488.3,879.4) scale(0.86,1)" text-anchor="middle">22</text>
<line x1="1597" y1="867.5" x2="1597" y2="870.5" stroke="#6a6a6a" stroke-width="1"/>
<text class="ax" transform="translate(1597,879.4) scale(0.86,1)" text-anchor="middle">28</text>
<line x1="1671" y1="867.5" x2="1671" y2="870.5" stroke="#6a6a6a" stroke-width="1"/>
<text class="ax tb" transform="translate(1671,879.4) scale(0.86,1)" text-anchor="middle">Nov</text>
<line x1="1743.6" y1="867.5" x2="1743.6" y2="870.5" stroke="#6a6a6a" stroke-width="1"/>
<text class="ax" transform="translate(1743.6,879.4) scale(0.86,1)" text-anchor="middle">5</text>
<line x1="1815.5" y1="867.5" x2="1815.5" y2="870.5" stroke="#6a6a6a" stroke-width="1"/>
<text class="ax" transform="translate(1815,879.4) scale(0.86,1)" text-anchor="end">21:</text>
<g id="legend">
<rect x="7.6" y="8.9" width="9" height="9.6" fill="#fff" stroke="#777" stroke-width="1"/><line x1="9.6" y1="13.7" x2="14.6" y2="13.7" stroke="#777" stroke-width="1"/>
<text x="22.6" y="18.4" font-size="13.4px" fill="#4f4f4f" textLength="374.7" lengthAdjust="spacingAndGlyphs">Dow Jones Industrial Average, Estados Unidos, 60, Nueva York</text>
<path d="M401 13h6l-3 3.2z" fill="#b5b5b5"/>
<rect x="414.9" y="9.8" width="10.3" height="10.1" fill="#dcdcdc"/>
<ellipse cx="420.04999999999995" cy="14.850000000000001" rx="3.7" ry="3.0" fill="none" stroke="#fff" stroke-width="1.1"/><circle cx="420.04999999999995" cy="14.850000000000001" r="1.2" fill="#fff"/>
<rect x="429.1" y="9.8" width="10.4" height="10.1" fill="#dcdcdc"/>
<circle cx="434.3" cy="14.850000000000001" r="2.5" fill="none" stroke="#fff" stroke-width="1.6"/>
<line x1="437.4" y1="14.9" x2="438.7" y2="14.9" stroke="#fff" stroke-width="1.4"/>
<line x1="436.5" y1="17.1" x2="437.4" y2="17.9" stroke="#fff" stroke-width="1.4"/>
<line x1="434.3" y1="18.0" x2="434.3" y2="19.2" stroke="#fff" stroke-width="1.4"/>
<line x1="432.1" y1="17.1" x2="431.2" y2="17.9" stroke="#fff" stroke-width="1.4"/>
<line x1="431.2" y1="14.9" x2="429.9" y2="14.9" stroke="#fff" stroke-width="1.4"/>
<line x1="432.1" y1="12.6" x2="431.2" y2="11.8" stroke="#fff" stroke-width="1.4"/>
<line x1="434.3" y1="11.7" x2="434.3" y2="10.5" stroke="#fff" stroke-width="1.4"/>
<line x1="436.5" y1="12.6" x2="437.4" y2="11.8" stroke="#fff" stroke-width="1.4"/>
<text x="446.7" y="19" font-size="12.5px" fill="#555" textLength="6.3" lengthAdjust="spacingAndGlyphs">O</text>
<text x="456.3" y="19" font-size="12.5px" fill="#4d1414" textLength="46.5" lengthAdjust="spacingAndGlyphs">27688.47</text>
<text x="511.4" y="19" font-size="12.5px" fill="#555" textLength="6.9" lengthAdjust="spacingAndGlyphs">H</text>
<text x="520.4" y="19" font-size="12.5px" fill="#4d1414" textLength="47.1" lengthAdjust="spacingAndGlyphs">27688.47</text>
<text x="576.5" y="19" font-size="12.5px" fill="#555" textLength="5.2" lengthAdjust="spacingAndGlyphs">L</text>
<text x="583.8" y="19" font-size="12.5px" fill="#4d1414" textLength="47" lengthAdjust="spacingAndGlyphs">27686.04</text>
<text x="638.6" y="19" font-size="12.5px" fill="#555" textLength="6.4" lengthAdjust="spacingAndGlyphs">C</text>
<text x="647.6" y="19" font-size="12.5px" fill="#4d1414" textLength="47.1" lengthAdjust="spacingAndGlyphs">27686.04</text>
<text x="7.1" y="33.9" font-size="9.6px" fill="#4f4f4f" textLength="111.2" lengthAdjust="spacingAndGlyphs">US500, NUEVA YORK (CFD)</text>
<path d="M122 29h6l-3 3.2z" fill="#b5b5b5"/>
<rect x="136" y="25.2" width="10.8" height="10.6" fill="#dcdcdc"/>
<ellipse cx="141.4" cy="30.5" rx="3.9" ry="3.2" fill="none" stroke="#fff" stroke-width="1.1"/><circle cx="141.4" cy="30.5" r="1.2" fill="#fff"/>
<rect x="150" y="25.2" width="11" height="10.6" fill="#dcdcdc"/>
<circle cx="155.5" cy="30.5" r="2.6" fill="none" stroke="#fff" stroke-width="1.6"/>
<line x1="158.8" y1="30.5" x2="160.1" y2="30.5" stroke="#fff" stroke-width="1.4"/>
<line x1="157.8" y1="32.8" x2="158.8" y2="33.8" stroke="#fff" stroke-width="1.4"/>
<line x1="155.5" y1="33.8" x2="155.5" y2="35.1" stroke="#fff" stroke-width="1.4"/>
<line x1="153.2" y1="32.8" x2="152.2" y2="33.8" stroke="#fff" stroke-width="1.4"/>
<line x1="152.2" y1="30.5" x2="150.9" y2="30.5" stroke="#fff" stroke-width="1.4"/>
<line x1="153.2" y1="28.2" x2="152.2" y2="27.2" stroke="#fff" stroke-width="1.4"/>
<line x1="155.5" y1="27.2" x2="155.5" y2="25.9" stroke="#fff" stroke-width="1.4"/>
<line x1="157.8" y1="28.2" x2="158.8" y2="27.2" stroke="#fff" stroke-width="1.4"/>
<rect x="163.2" y="25.2" width="11.6" height="10.6" fill="#dcdcdc"/>
<path d="M165.5 27.0L172.5 34.0M172.5 27.0L165.5 34.0" stroke="#fff" stroke-width="1.2"/>
<text x="181" y="34.3" font-size="9.6px" fill="#f00000" textLength="33.7" lengthAdjust="spacingAndGlyphs">3400.97</text>
<text x="7.1" y="50.2" font-size="9.6px" fill="#4f4f4f" textLength="58.2" lengthAdjust="spacingAndGlyphs">NDX, NASDAQ</text>
<path d="M68.2 44.8h6l-3 3.2z" fill="#b5b5b5"/>
<rect x="81.9" y="41.1" width="11.9" height="10.6" fill="#dcdcdc"/>
<ellipse cx="87.85000000000001" cy="46.4" rx="4.3" ry="3.2" fill="none" stroke="#fff" stroke-width="1.1"/><circle cx="87.85000000000001" cy="46.4" r="1.2" fill="#fff"/>
<rect x="96" y="41.1" width="11" height="10.6" fill="#dcdcdc"/>
<circle cx="101.5" cy="46.4" r="2.6" fill="none" stroke="#fff" stroke-width="1.6"/>
<line x1="104.8" y1="46.4" x2="106.1" y2="46.4" stroke="#fff" stroke-width="1.4"/>
<line x1="103.8" y1="48.7" x2="104.8" y2="49.7" stroke="#fff" stroke-width="1.4"/>
<line x1="101.5" y1="49.7" x2="101.5" y2="51.0" stroke="#fff" stroke-width="1.4"/>
<line x1="99.2" y1="48.7" x2="98.2" y2="49.7" stroke="#fff" stroke-width="1.4"/>
<line x1="98.2" y1="46.4" x2="96.9" y2="46.4" stroke="#fff" stroke-width="1.4"/>
<line x1="99.2" y1="44.1" x2="98.2" y2="43.1" stroke="#fff" stroke-width="1.4"/>
<line x1="101.5" y1="43.1" x2="101.5" y2="41.8" stroke="#fff" stroke-width="1.4"/>
<line x1="103.8" y1="44.1" x2="104.8" y2="43.1" stroke="#fff" stroke-width="1.4"/>
<rect x="110" y="41.1" width="11" height="10.6" fill="#dcdcdc"/>
<path d="M112.2 43.1L118.8 49.7M118.8 43.1L112.2 49.7" stroke="#fff" stroke-width="1.2"/>
<text x="127.8" y="50.7" font-size="9.6px" fill="#00e000" textLength="38.2" lengthAdjust="spacingAndGlyphs">11504.52</text>
</g>
<circle cx="1744.5" cy="12.5" r="2.6" fill="#8c8c8c"/>
<text x="1750" y="15.8" font-size="10px" fill="#8a8a8a" textLength="60.6" lengthAdjust="spacingAndGlyphs">Market Closed</text>
<text class="note" x="1581.5" y="488.5" textLength="56.5" lengthAdjust="spacingAndGlyphs">nasdaq</text>
<text class="note" x="1581.5" y="515.8" textLength="45" lengthAdjust="spacingAndGlyphs">sp500</text>
<text class="note" x="1581.5" y="542.6" textLength="79" lengthAdjust="spacingAndGlyphs">dow jones</text>
<text class="note" x="1575.7" y="595.9" textLength="154" lengthAdjust="spacingAndGlyphs">corrección al 61,8%</text>
<text x="1310.8" y="853.8" font-size="16px" fill="#000" stroke="#000" stroke-width=".45" textLength="285.2" lengthAdjust="spacingAndGlyphs">WWW.INVERTIRYESPECULAR.COM</text>
<text x="13.6" y="853.3" font-size="17px" font-weight="bold" fill="#111" stroke="#111" stroke-width=".4" textLength="71.6" lengthAdjust="spacingAndGlyphs">Investing</text>
<text x="86.3" y="853.3" font-size="11.2px" fill="#555" textLength="23.6" lengthAdjust="spacingAndGlyphs">.com</text>
<path d="M61.2 843.6 L61.6 841.2 Q63.4 839.6 65.2 839.6 L64.8 842 Q63 843.4 61.2 843.6z" fill="#f7a21b"/>
</svg></body></html>
